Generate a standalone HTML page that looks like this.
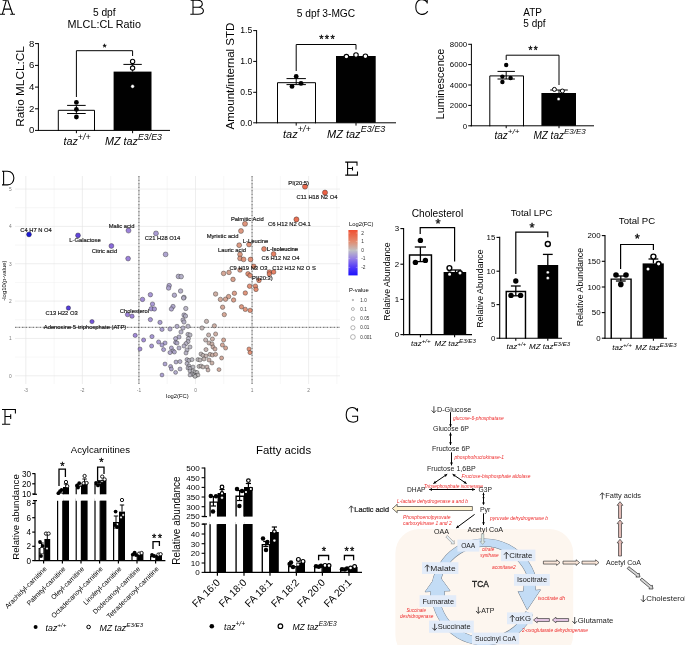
<!DOCTYPE html>
<html><head><meta charset="utf-8"><title>Figure</title>
<style>html,body{margin:0;padding:0;background:#fff;}svg{display:block;}text{font-family:"Liberation Sans",sans-serif;}</style></head>
<body>
<svg width="685" height="645" viewBox="0 0 685 645">
<rect x="0" y="0" width="685" height="645" fill="#fff"/>
<g opacity="0.999">
<g>
<line x1="25.82" y1="176" x2="25.82" y2="384" stroke="#e2e2e2" stroke-width="0.6"/>
<line x1="54.1" y1="176" x2="54.1" y2="384" stroke="#ececec" stroke-width="0.45"/>
<line x1="82.38" y1="176" x2="82.38" y2="384" stroke="#e2e2e2" stroke-width="0.6"/>
<line x1="110.66" y1="176" x2="110.66" y2="384" stroke="#ececec" stroke-width="0.45"/>
<line x1="138.94" y1="176" x2="138.94" y2="384" stroke="#e2e2e2" stroke-width="0.6"/>
<line x1="167.22" y1="176" x2="167.22" y2="384" stroke="#ececec" stroke-width="0.45"/>
<line x1="195.5" y1="176" x2="195.5" y2="384" stroke="#e2e2e2" stroke-width="0.6"/>
<line x1="223.78" y1="176" x2="223.78" y2="384" stroke="#ececec" stroke-width="0.45"/>
<line x1="252.06" y1="176" x2="252.06" y2="384" stroke="#e2e2e2" stroke-width="0.6"/>
<line x1="280.34" y1="176" x2="280.34" y2="384" stroke="#ececec" stroke-width="0.45"/>
<line x1="308.62" y1="176" x2="308.62" y2="384" stroke="#e2e2e2" stroke-width="0.6"/>
<line x1="336.9" y1="176" x2="336.9" y2="384" stroke="#ececec" stroke-width="0.45"/>
<line x1="15" y1="375.8" x2="340" y2="375.8" stroke="#e2e2e2" stroke-width="0.6"/>
<line x1="15" y1="357.12" x2="340" y2="357.12" stroke="#ececec" stroke-width="0.45"/>
<line x1="15" y1="338.45" x2="340" y2="338.45" stroke="#e2e2e2" stroke-width="0.6"/>
<line x1="15" y1="319.77" x2="340" y2="319.77" stroke="#ececec" stroke-width="0.45"/>
<line x1="15" y1="301.1" x2="340" y2="301.1" stroke="#e2e2e2" stroke-width="0.6"/>
<line x1="15" y1="282.43" x2="340" y2="282.43" stroke="#ececec" stroke-width="0.45"/>
<line x1="15" y1="263.75" x2="340" y2="263.75" stroke="#e2e2e2" stroke-width="0.6"/>
<line x1="15" y1="245.08" x2="340" y2="245.08" stroke="#ececec" stroke-width="0.45"/>
<line x1="15" y1="226.4" x2="340" y2="226.4" stroke="#e2e2e2" stroke-width="0.6"/>
<line x1="15" y1="207.72" x2="340" y2="207.72" stroke="#ececec" stroke-width="0.45"/>
<line x1="15" y1="189.05" x2="340" y2="189.05" stroke="#e2e2e2" stroke-width="0.6"/>
<line x1="138.94" y1="176" x2="138.94" y2="384" stroke="#2a2a2a" stroke-width="0.75" stroke-dasharray="1.6 0.7 0.5 0.7"/>
<line x1="252.06" y1="176" x2="252.06" y2="384" stroke="#2a2a2a" stroke-width="0.75" stroke-dasharray="1.6 0.7 0.5 0.7"/>
<line x1="15" y1="327.3" x2="340" y2="327.3" stroke="#2a2a2a" stroke-width="0.75" stroke-dasharray="1.6 0.7 0.5 0.7"/>
<circle cx="29" cy="234.4" r="2.48" fill="#0907d1" stroke="#1e1e1e" stroke-width="0.38" fill-opacity="0.92"/>
<circle cx="78" cy="235.4" r="2.48" fill="#5536d6" stroke="#1e1e1e" stroke-width="0.38" fill-opacity="0.92"/>
<circle cx="128.5" cy="230.6" r="2.49" fill="#9477d6" stroke="#1e1e1e" stroke-width="0.38" fill-opacity="0.92"/>
<circle cx="111.4" cy="246" r="2.44" fill="#8060d6" stroke="#1e1e1e" stroke-width="0.38" fill-opacity="0.92"/>
<circle cx="128.1" cy="258.6" r="2.39" fill="#9476d6" stroke="#1e1e1e" stroke-width="0.38" fill-opacity="0.92"/>
<circle cx="156" cy="233.4" r="2.48" fill="#a293cf" stroke="#1e1e1e" stroke-width="0.38" fill-opacity="0.92"/>
<circle cx="165.6" cy="254.4" r="2.41" fill="#a79ccc" stroke="#1e1e1e" stroke-width="0.38" fill-opacity="0.92"/>
<circle cx="68.4" cy="308" r="2.2" fill="#472ed7" stroke="#1e1e1e" stroke-width="0.38" fill-opacity="0.92"/>
<circle cx="92" cy="321.6" r="2.15" fill="#6847d6" stroke="#1e1e1e" stroke-width="0.38" fill-opacity="0.92"/>
<circle cx="127.5" cy="314.6" r="2.18" fill="#9476d6" stroke="#1e1e1e" stroke-width="0.38" fill-opacity="0.92"/>
<circle cx="132" cy="316.2" r="2.17" fill="#967ad5" stroke="#1e1e1e" stroke-width="0.38" fill-opacity="0.92"/>
<circle cx="135.2" cy="335.4" r="2.1" fill="#987ed4" stroke="#1e1e1e" stroke-width="0.38" fill-opacity="0.92"/>
<circle cx="178.4" cy="276.4" r="2.32" fill="#aea8c6" stroke="#1e1e1e" stroke-width="0.38" fill-opacity="0.92"/>
<circle cx="181.2" cy="276.6" r="2.32" fill="#b0abc4" stroke="#1e1e1e" stroke-width="0.38" fill-opacity="0.92"/>
<circle cx="169.2" cy="285.6" r="2.29" fill="#a9a0cb" stroke="#1e1e1e" stroke-width="0.38" fill-opacity="0.92"/>
<circle cx="168.6" cy="288" r="2.28" fill="#a99fcb" stroke="#1e1e1e" stroke-width="0.38" fill-opacity="0.92"/>
<circle cx="180.6" cy="291" r="2.27" fill="#b0aac4" stroke="#1e1e1e" stroke-width="0.38" fill-opacity="0.92"/>
<circle cx="174.4" cy="295.2" r="2.25" fill="#aca5c8" stroke="#1e1e1e" stroke-width="0.38" fill-opacity="0.92"/>
<circle cx="184" cy="297.4" r="2.24" fill="#b1adc3" stroke="#1e1e1e" stroke-width="0.38" fill-opacity="0.92"/>
<circle cx="183.6" cy="298" r="2.24" fill="#b1adc3" stroke="#1e1e1e" stroke-width="0.38" fill-opacity="0.92"/>
<circle cx="150.4" cy="294.7" r="2.25" fill="#a08dd0" stroke="#1e1e1e" stroke-width="0.38" fill-opacity="0.92"/>
<circle cx="142.5" cy="299.4" r="2.24" fill="#9c85d2" stroke="#1e1e1e" stroke-width="0.38" fill-opacity="0.92"/>
<circle cx="152.5" cy="304.1" r="2.22" fill="#a18fd0" stroke="#1e1e1e" stroke-width="0.38" fill-opacity="0.92"/>
<circle cx="151.2" cy="308.8" r="2.2" fill="#a08ed0" stroke="#1e1e1e" stroke-width="0.38" fill-opacity="0.92"/>
<circle cx="154.4" cy="309" r="2.2" fill="#a291cf" stroke="#1e1e1e" stroke-width="0.38" fill-opacity="0.92"/>
<circle cx="173" cy="306.5" r="2.21" fill="#aba3c9" stroke="#1e1e1e" stroke-width="0.38" fill-opacity="0.92"/>
<circle cx="171.4" cy="309" r="2.2" fill="#aaa2ca" stroke="#1e1e1e" stroke-width="0.38" fill-opacity="0.92"/>
<circle cx="185.8" cy="308.5" r="2.2" fill="#b3afc1" stroke="#1e1e1e" stroke-width="0.38" fill-opacity="0.92"/>
<circle cx="150.4" cy="319.6" r="2.16" fill="#a08dd0" stroke="#1e1e1e" stroke-width="0.38" fill-opacity="0.92"/>
<circle cx="160" cy="322.4" r="2.15" fill="#a497ce" stroke="#1e1e1e" stroke-width="0.38" fill-opacity="0.92"/>
<circle cx="184" cy="315" r="2.18" fill="#b1adc3" stroke="#1e1e1e" stroke-width="0.38" fill-opacity="0.92"/>
<circle cx="185.5" cy="316" r="2.17" fill="#b2afc2" stroke="#1e1e1e" stroke-width="0.38" fill-opacity="0.92"/>
<circle cx="183" cy="320" r="2.16" fill="#b1adc3" stroke="#1e1e1e" stroke-width="0.38" fill-opacity="0.92"/>
<circle cx="184" cy="322" r="2.15" fill="#b1adc3" stroke="#1e1e1e" stroke-width="0.38" fill-opacity="0.92"/>
<circle cx="188" cy="326.3" r="2.14" fill="#b4b1c0" stroke="#1e1e1e" stroke-width="0.38" fill-opacity="0.92"/>
<circle cx="177" cy="326.4" r="2.14" fill="#aea7c6" stroke="#1e1e1e" stroke-width="0.38" fill-opacity="0.92"/>
<circle cx="183" cy="328" r="2.13" fill="#b1adc3" stroke="#1e1e1e" stroke-width="0.38" fill-opacity="0.92"/>
<circle cx="170" cy="329" r="2.13" fill="#aaa1ca" stroke="#1e1e1e" stroke-width="0.38" fill-opacity="0.92"/>
<circle cx="162" cy="329.4" r="2.12" fill="#a599cd" stroke="#1e1e1e" stroke-width="0.38" fill-opacity="0.92"/>
<circle cx="181" cy="332" r="2.11" fill="#b0abc4" stroke="#1e1e1e" stroke-width="0.38" fill-opacity="0.92"/>
<circle cx="206.5" cy="321.4" r="2.15" fill="#c1afaa" stroke="#1e1e1e" stroke-width="0.38" fill-opacity="0.92"/>
<circle cx="214.4" cy="325.8" r="2.14" fill="#c8a89d" stroke="#1e1e1e" stroke-width="0.38" fill-opacity="0.92"/>
<circle cx="202" cy="328" r="2.13" fill="#beb2b1" stroke="#1e1e1e" stroke-width="0.38" fill-opacity="0.92"/>
<circle cx="305" cy="186.6" r="2.58" fill="#e75f41" stroke="#1e1e1e" stroke-width="0.38" fill-opacity="0.92"/>
<circle cx="325" cy="192.6" r="2.58" fill="#e95234" stroke="#1e1e1e" stroke-width="0.38" fill-opacity="0.92"/>
<circle cx="296.4" cy="219.4" r="2.54" fill="#e56547" stroke="#1e1e1e" stroke-width="0.38" fill-opacity="0.92"/>
<circle cx="245" cy="223.8" r="2.52" fill="#dc8c71" stroke="#1e1e1e" stroke-width="0.38" fill-opacity="0.92"/>
<circle cx="241" cy="231" r="2.49" fill="#da9077" stroke="#1e1e1e" stroke-width="0.38" fill-opacity="0.92"/>
<circle cx="239.2" cy="245.2" r="2.44" fill="#d99279" stroke="#1e1e1e" stroke-width="0.38" fill-opacity="0.92"/>
<circle cx="249" cy="244.5" r="2.44" fill="#de896c" stroke="#1e1e1e" stroke-width="0.38" fill-opacity="0.92"/>
<circle cx="264" cy="249" r="2.43" fill="#e17d5f" stroke="#1e1e1e" stroke-width="0.38" fill-opacity="0.92"/>
<circle cx="273.6" cy="254" r="2.41" fill="#e37658" stroke="#1e1e1e" stroke-width="0.38" fill-opacity="0.92"/>
<circle cx="240" cy="254.4" r="2.41" fill="#d99178" stroke="#1e1e1e" stroke-width="0.38" fill-opacity="0.92"/>
<circle cx="240" cy="258.4" r="2.39" fill="#d99178" stroke="#1e1e1e" stroke-width="0.38" fill-opacity="0.92"/>
<circle cx="243.6" cy="259.4" r="2.39" fill="#db8e73" stroke="#1e1e1e" stroke-width="0.38" fill-opacity="0.92"/>
<circle cx="250.5" cy="259.5" r="2.39" fill="#df876a" stroke="#1e1e1e" stroke-width="0.38" fill-opacity="0.92"/>
<circle cx="240" cy="270" r="2.35" fill="#d99178" stroke="#1e1e1e" stroke-width="0.38" fill-opacity="0.92"/>
<circle cx="223.6" cy="273.4" r="2.33" fill="#d0a08e" stroke="#1e1e1e" stroke-width="0.38" fill-opacity="0.92"/>
<circle cx="229" cy="272.4" r="2.34" fill="#d39b87" stroke="#1e1e1e" stroke-width="0.38" fill-opacity="0.92"/>
<circle cx="248" cy="273.8" r="2.33" fill="#de8a6d" stroke="#1e1e1e" stroke-width="0.38" fill-opacity="0.92"/>
<circle cx="250" cy="275.5" r="2.33" fill="#df886b" stroke="#1e1e1e" stroke-width="0.38" fill-opacity="0.92"/>
<circle cx="253.8" cy="266.4" r="2.36" fill="#e08567" stroke="#1e1e1e" stroke-width="0.38" fill-opacity="0.92"/>
<circle cx="269.4" cy="272" r="2.34" fill="#e2795b" stroke="#1e1e1e" stroke-width="0.38" fill-opacity="0.92"/>
<circle cx="273.6" cy="272" r="2.34" fill="#e37658" stroke="#1e1e1e" stroke-width="0.38" fill-opacity="0.92"/>
<circle cx="269.4" cy="274" r="2.33" fill="#e2795b" stroke="#1e1e1e" stroke-width="0.38" fill-opacity="0.92"/>
<circle cx="259" cy="280.4" r="2.31" fill="#e18163" stroke="#1e1e1e" stroke-width="0.38" fill-opacity="0.92"/>
<circle cx="233" cy="279.4" r="2.31" fill="#d59882" stroke="#1e1e1e" stroke-width="0.38" fill-opacity="0.92"/>
<circle cx="249.6" cy="286.2" r="2.29" fill="#df886b" stroke="#1e1e1e" stroke-width="0.38" fill-opacity="0.92"/>
<circle cx="255.4" cy="286.2" r="2.29" fill="#e08466" stroke="#1e1e1e" stroke-width="0.38" fill-opacity="0.92"/>
<circle cx="256" cy="289.4" r="2.27" fill="#e08365" stroke="#1e1e1e" stroke-width="0.38" fill-opacity="0.92"/>
<circle cx="215.6" cy="294" r="2.26" fill="#c9a79b" stroke="#1e1e1e" stroke-width="0.38" fill-opacity="0.92"/>
<circle cx="234.4" cy="293.3" r="2.26" fill="#d69680" stroke="#1e1e1e" stroke-width="0.38" fill-opacity="0.92"/>
<circle cx="245.3" cy="293" r="2.26" fill="#dc8c71" stroke="#1e1e1e" stroke-width="0.38" fill-opacity="0.92"/>
<circle cx="228.6" cy="296.6" r="2.25" fill="#d39c88" stroke="#1e1e1e" stroke-width="0.38" fill-opacity="0.92"/>
<circle cx="220.4" cy="299.4" r="2.24" fill="#cda393" stroke="#1e1e1e" stroke-width="0.38" fill-opacity="0.92"/>
<circle cx="225.5" cy="299.2" r="2.24" fill="#d19e8c" stroke="#1e1e1e" stroke-width="0.38" fill-opacity="0.92"/>
<circle cx="233.6" cy="300" r="2.23" fill="#d69781" stroke="#1e1e1e" stroke-width="0.38" fill-opacity="0.92"/>
<circle cx="222.6" cy="307.2" r="2.21" fill="#cfa190" stroke="#1e1e1e" stroke-width="0.38" fill-opacity="0.92"/>
<circle cx="241.5" cy="306.8" r="2.21" fill="#da9076" stroke="#1e1e1e" stroke-width="0.38" fill-opacity="0.92"/>
<circle cx="245.3" cy="309.4" r="2.2" fill="#dc8c71" stroke="#1e1e1e" stroke-width="0.38" fill-opacity="0.92"/>
<circle cx="250.1" cy="310.4" r="2.2" fill="#df886b" stroke="#1e1e1e" stroke-width="0.38" fill-opacity="0.92"/>
<circle cx="224.3" cy="314.6" r="2.18" fill="#d0a08d" stroke="#1e1e1e" stroke-width="0.38" fill-opacity="0.92"/>
<circle cx="152" cy="336.6" r="2.1" fill="#a08fd0" stroke="#1e1e1e" stroke-width="0.38" fill-opacity="0.92"/>
<circle cx="143.6" cy="340" r="2.08" fill="#9c86d2" stroke="#1e1e1e" stroke-width="0.38" fill-opacity="0.92"/>
<circle cx="179" cy="337" r="2.1" fill="#afa9c5" stroke="#1e1e1e" stroke-width="0.38" fill-opacity="0.92"/>
<circle cx="175.6" cy="338.6" r="2.09" fill="#ada6c7" stroke="#1e1e1e" stroke-width="0.38" fill-opacity="0.92"/>
<circle cx="188" cy="334.4" r="2.11" fill="#b4b1c0" stroke="#1e1e1e" stroke-width="0.38" fill-opacity="0.92"/>
<circle cx="190" cy="335" r="2.1" fill="#b5b3bf" stroke="#1e1e1e" stroke-width="0.38" fill-opacity="0.92"/>
<circle cx="188.4" cy="338.6" r="2.09" fill="#b4b1c0" stroke="#1e1e1e" stroke-width="0.38" fill-opacity="0.92"/>
<circle cx="208.6" cy="335" r="2.1" fill="#c3ada7" stroke="#1e1e1e" stroke-width="0.38" fill-opacity="0.92"/>
<circle cx="215.6" cy="334" r="2.11" fill="#c9a79b" stroke="#1e1e1e" stroke-width="0.38" fill-opacity="0.92"/>
<circle cx="205.6" cy="340" r="2.08" fill="#c1afac" stroke="#1e1e1e" stroke-width="0.38" fill-opacity="0.92"/>
<circle cx="212.4" cy="339" r="2.09" fill="#c6aaa1" stroke="#1e1e1e" stroke-width="0.38" fill-opacity="0.92"/>
<circle cx="158.6" cy="342" r="2.08" fill="#a495ce" stroke="#1e1e1e" stroke-width="0.38" fill-opacity="0.92"/>
<circle cx="165" cy="343" r="2.07" fill="#a79ccd" stroke="#1e1e1e" stroke-width="0.38" fill-opacity="0.92"/>
<circle cx="162" cy="345" r="2.07" fill="#a599cd" stroke="#1e1e1e" stroke-width="0.38" fill-opacity="0.92"/>
<circle cx="151.6" cy="346" r="2.06" fill="#a08ed0" stroke="#1e1e1e" stroke-width="0.38" fill-opacity="0.92"/>
<circle cx="140" cy="349" r="2.05" fill="#9a82d3" stroke="#1e1e1e" stroke-width="0.38" fill-opacity="0.92"/>
<circle cx="175.6" cy="342.4" r="2.08" fill="#ada6c7" stroke="#1e1e1e" stroke-width="0.38" fill-opacity="0.92"/>
<circle cx="177" cy="343" r="2.07" fill="#aea7c6" stroke="#1e1e1e" stroke-width="0.38" fill-opacity="0.92"/>
<circle cx="188" cy="341.6" r="2.08" fill="#b4b1c0" stroke="#1e1e1e" stroke-width="0.38" fill-opacity="0.92"/>
<circle cx="186" cy="343.6" r="2.07" fill="#b3afc1" stroke="#1e1e1e" stroke-width="0.38" fill-opacity="0.92"/>
<circle cx="184" cy="346" r="2.06" fill="#b1adc3" stroke="#1e1e1e" stroke-width="0.38" fill-opacity="0.92"/>
<circle cx="190" cy="347" r="2.06" fill="#b5b3bf" stroke="#1e1e1e" stroke-width="0.38" fill-opacity="0.92"/>
<circle cx="179" cy="348" r="2.05" fill="#afa9c5" stroke="#1e1e1e" stroke-width="0.38" fill-opacity="0.92"/>
<circle cx="171.4" cy="348" r="2.05" fill="#aaa2ca" stroke="#1e1e1e" stroke-width="0.38" fill-opacity="0.92"/>
<circle cx="163.6" cy="349.6" r="2.05" fill="#a69acd" stroke="#1e1e1e" stroke-width="0.38" fill-opacity="0.92"/>
<circle cx="173" cy="351" r="2.04" fill="#aba3c9" stroke="#1e1e1e" stroke-width="0.38" fill-opacity="0.92"/>
<circle cx="170" cy="352.6" r="2.04" fill="#aaa1ca" stroke="#1e1e1e" stroke-width="0.38" fill-opacity="0.92"/>
<circle cx="174.4" cy="352" r="2.04" fill="#aca5c8" stroke="#1e1e1e" stroke-width="0.38" fill-opacity="0.92"/>
<circle cx="187" cy="350" r="2.05" fill="#b3b0c1" stroke="#1e1e1e" stroke-width="0.38" fill-opacity="0.92"/>
<circle cx="186" cy="353" r="2.04" fill="#b3afc1" stroke="#1e1e1e" stroke-width="0.38" fill-opacity="0.92"/>
<circle cx="209" cy="343" r="2.07" fill="#c3ada6" stroke="#1e1e1e" stroke-width="0.38" fill-opacity="0.92"/>
<circle cx="212" cy="344" r="2.07" fill="#c6aaa1" stroke="#1e1e1e" stroke-width="0.38" fill-opacity="0.92"/>
<circle cx="213" cy="347" r="2.06" fill="#c7a9a0" stroke="#1e1e1e" stroke-width="0.38" fill-opacity="0.92"/>
<circle cx="215" cy="349" r="2.05" fill="#c9a79c" stroke="#1e1e1e" stroke-width="0.38" fill-opacity="0.92"/>
<circle cx="206" cy="349.6" r="2.05" fill="#c1afab" stroke="#1e1e1e" stroke-width="0.38" fill-opacity="0.92"/>
<circle cx="223.6" cy="340" r="2.08" fill="#d0a08e" stroke="#1e1e1e" stroke-width="0.38" fill-opacity="0.92"/>
<circle cx="222.4" cy="345" r="2.07" fill="#cfa190" stroke="#1e1e1e" stroke-width="0.38" fill-opacity="0.92"/>
<circle cx="225.6" cy="348" r="2.05" fill="#d19e8c" stroke="#1e1e1e" stroke-width="0.38" fill-opacity="0.92"/>
<circle cx="249" cy="349" r="2.05" fill="#de896c" stroke="#1e1e1e" stroke-width="0.38" fill-opacity="0.92"/>
<circle cx="250" cy="352.6" r="2.04" fill="#df886b" stroke="#1e1e1e" stroke-width="0.38" fill-opacity="0.92"/>
<circle cx="201" cy="354" r="2.03" fill="#bdb3b3" stroke="#1e1e1e" stroke-width="0.38" fill-opacity="0.92"/>
<circle cx="203" cy="355.4" r="2.03" fill="#beb2b0" stroke="#1e1e1e" stroke-width="0.38" fill-opacity="0.92"/>
<circle cx="206" cy="356" r="2.02" fill="#c1afab" stroke="#1e1e1e" stroke-width="0.38" fill-opacity="0.92"/>
<circle cx="210" cy="354.4" r="2.03" fill="#c4aca4" stroke="#1e1e1e" stroke-width="0.38" fill-opacity="0.92"/>
<circle cx="212.4" cy="355" r="2.03" fill="#c6aaa1" stroke="#1e1e1e" stroke-width="0.38" fill-opacity="0.92"/>
<circle cx="215.6" cy="354.4" r="2.03" fill="#c9a79b" stroke="#1e1e1e" stroke-width="0.38" fill-opacity="0.92"/>
<circle cx="221.6" cy="358" r="2.02" fill="#cea292" stroke="#1e1e1e" stroke-width="0.38" fill-opacity="0.92"/>
<circle cx="187" cy="359.6" r="2.01" fill="#b3b0c1" stroke="#1e1e1e" stroke-width="0.38" fill-opacity="0.92"/>
<circle cx="189" cy="360.4" r="2.01" fill="#b4b2c0" stroke="#1e1e1e" stroke-width="0.38" fill-opacity="0.92"/>
<circle cx="192" cy="359.6" r="2.01" fill="#b6b5be" stroke="#1e1e1e" stroke-width="0.38" fill-opacity="0.92"/>
<circle cx="198" cy="359.6" r="2.01" fill="#bab6b8" stroke="#1e1e1e" stroke-width="0.38" fill-opacity="0.92"/>
<circle cx="200" cy="360" r="2.01" fill="#bcb4b5" stroke="#1e1e1e" stroke-width="0.38" fill-opacity="0.92"/>
<circle cx="204" cy="359" r="2.01" fill="#bfb1ae" stroke="#1e1e1e" stroke-width="0.38" fill-opacity="0.92"/>
<circle cx="209" cy="360" r="2.01" fill="#c3ada6" stroke="#1e1e1e" stroke-width="0.38" fill-opacity="0.92"/>
<circle cx="212" cy="363" r="2" fill="#c6aaa1" stroke="#1e1e1e" stroke-width="0.38" fill-opacity="0.92"/>
<circle cx="176" cy="362" r="2" fill="#ada6c7" stroke="#1e1e1e" stroke-width="0.38" fill-opacity="0.92"/>
<circle cx="180" cy="361.6" r="2" fill="#afaac5" stroke="#1e1e1e" stroke-width="0.38" fill-opacity="0.92"/>
<circle cx="165" cy="364" r="1.99" fill="#a79ccd" stroke="#1e1e1e" stroke-width="0.38" fill-opacity="0.92"/>
<circle cx="170.6" cy="366.4" r="1.99" fill="#aaa1ca" stroke="#1e1e1e" stroke-width="0.38" fill-opacity="0.92"/>
<circle cx="171.4" cy="369" r="1.98" fill="#aaa2ca" stroke="#1e1e1e" stroke-width="0.38" fill-opacity="0.92"/>
<circle cx="180" cy="369" r="1.98" fill="#afaac5" stroke="#1e1e1e" stroke-width="0.38" fill-opacity="0.92"/>
<circle cx="175.6" cy="372.4" r="1.96" fill="#ada6c7" stroke="#1e1e1e" stroke-width="0.38" fill-opacity="0.92"/>
<circle cx="162" cy="375" r="1.95" fill="#a599cd" stroke="#1e1e1e" stroke-width="0.38" fill-opacity="0.92"/>
<circle cx="187" cy="363.6" r="2" fill="#b3b0c1" stroke="#1e1e1e" stroke-width="0.38" fill-opacity="0.92"/>
<circle cx="189" cy="366" r="1.99" fill="#b4b2c0" stroke="#1e1e1e" stroke-width="0.38" fill-opacity="0.92"/>
<circle cx="188" cy="368" r="1.98" fill="#b4b1c0" stroke="#1e1e1e" stroke-width="0.38" fill-opacity="0.92"/>
<circle cx="190" cy="368.4" r="1.98" fill="#b5b3bf" stroke="#1e1e1e" stroke-width="0.38" fill-opacity="0.92"/>
<circle cx="193" cy="367" r="1.98" fill="#b7b6bd" stroke="#1e1e1e" stroke-width="0.38" fill-opacity="0.92"/>
<circle cx="199" cy="366.4" r="1.99" fill="#bbb5b6" stroke="#1e1e1e" stroke-width="0.38" fill-opacity="0.92"/>
<circle cx="201" cy="366" r="1.99" fill="#bdb3b3" stroke="#1e1e1e" stroke-width="0.38" fill-opacity="0.92"/>
<circle cx="203" cy="367" r="1.98" fill="#beb2b0" stroke="#1e1e1e" stroke-width="0.38" fill-opacity="0.92"/>
<circle cx="207" cy="367" r="1.98" fill="#c2aea9" stroke="#1e1e1e" stroke-width="0.38" fill-opacity="0.92"/>
<circle cx="208" cy="370" r="1.97" fill="#c3ada8" stroke="#1e1e1e" stroke-width="0.38" fill-opacity="0.92"/>
<circle cx="219" cy="369.6" r="1.97" fill="#cca496" stroke="#1e1e1e" stroke-width="0.38" fill-opacity="0.92"/>
<circle cx="190" cy="371" r="1.97" fill="#b5b3bf" stroke="#1e1e1e" stroke-width="0.38" fill-opacity="0.92"/>
<circle cx="193" cy="371" r="1.97" fill="#b7b6bd" stroke="#1e1e1e" stroke-width="0.38" fill-opacity="0.92"/>
<circle cx="195" cy="372" r="1.96" fill="#b8b8bc" stroke="#1e1e1e" stroke-width="0.38" fill-opacity="0.92"/>
<circle cx="197" cy="372.4" r="1.96" fill="#b9b7ba" stroke="#1e1e1e" stroke-width="0.38" fill-opacity="0.92"/>
<circle cx="192" cy="374" r="1.96" fill="#b6b5be" stroke="#1e1e1e" stroke-width="0.38" fill-opacity="0.92"/>
<circle cx="194" cy="375" r="1.95" fill="#b7b7bd" stroke="#1e1e1e" stroke-width="0.38" fill-opacity="0.92"/>
<circle cx="196" cy="375.6" r="1.95" fill="#b8b8bb" stroke="#1e1e1e" stroke-width="0.38" fill-opacity="0.92"/>
<circle cx="198" cy="375" r="1.95" fill="#bab6b8" stroke="#1e1e1e" stroke-width="0.38" fill-opacity="0.92"/>
<circle cx="190" cy="375" r="1.95" fill="#b5b3bf" stroke="#1e1e1e" stroke-width="0.38" fill-opacity="0.92"/>
<circle cx="195" cy="376.4" r="1.95" fill="#b8b8bc" stroke="#1e1e1e" stroke-width="0.38" fill-opacity="0.92"/>
<text x="36" y="232" font-size="5.8" text-anchor="middle" fill="#1a1a1a" stroke="#1a1a1a" stroke-width="0.18">C4 H7 N O4</text>
<text x="85" y="242" font-size="5.8" text-anchor="middle" fill="#1a1a1a" stroke="#1a1a1a" stroke-width="0.18">L-Galactose</text>
<text x="121.6" y="228" font-size="5.8" text-anchor="middle" fill="#1a1a1a" stroke="#1a1a1a" stroke-width="0.18">Malic acid</text>
<text x="104.4" y="252.6" font-size="5.8" text-anchor="middle" fill="#1a1a1a" stroke="#1a1a1a" stroke-width="0.18">Citric acid</text>
<text x="162.6" y="240" font-size="5.8" text-anchor="middle" fill="#1a1a1a" stroke="#1a1a1a" stroke-width="0.18">C21 H28 O14</text>
<text x="61.6" y="314.6" font-size="5.8" text-anchor="middle" fill="#1a1a1a" stroke="#1a1a1a" stroke-width="0.18">C13 H22 O3</text>
<text x="85" y="328.6" font-size="5.8" text-anchor="middle" fill="#1a1a1a" stroke="#1a1a1a" stroke-width="0.18">Adenosine 5-triphosphate (ATP)</text>
<text x="134.4" y="312.6" font-size="5.8" text-anchor="middle" fill="#1a1a1a" stroke="#1a1a1a" stroke-width="0.18">Cholesterol</text>
<text x="298.6" y="184.6" font-size="5.8" text-anchor="middle" fill="#1a1a1a" stroke="#1a1a1a" stroke-width="0.18">PI(20:5)</text>
<text x="317" y="199.4" font-size="5.8" text-anchor="middle" fill="#1a1a1a" stroke="#1a1a1a" stroke-width="0.18">C11 H18 N2 O4</text>
<text x="247.4" y="221.4" font-size="5.8" text-anchor="middle" fill="#1a1a1a" stroke="#1a1a1a" stroke-width="0.18">Palmitic Acid</text>
<text x="289.4" y="226.4" font-size="5.8" text-anchor="middle" fill="#1a1a1a" stroke="#1a1a1a" stroke-width="0.18">C6 H12 N2 O4.1</text>
<text x="222.6" y="238" font-size="5.8" text-anchor="middle" fill="#1a1a1a" stroke="#1a1a1a" stroke-width="0.18">Myristic acid</text>
<text x="255.6" y="242.6" font-size="5.8" text-anchor="middle" fill="#1a1a1a" stroke="#1a1a1a" stroke-width="0.18">L-Leucine</text>
<text x="232" y="252" font-size="5.8" text-anchor="middle" fill="#1a1a1a" stroke="#1a1a1a" stroke-width="0.18">Lauric acid</text>
<text x="282.4" y="250.6" font-size="5.8" text-anchor="middle" fill="#1a1a1a" stroke="#1a1a1a" stroke-width="0.18">L-Isoleucine</text>
<text x="280.6" y="260.4" font-size="5.8" text-anchor="middle" fill="#1a1a1a" stroke="#1a1a1a" stroke-width="0.18">C6 H12 N2 O4</text>
<text x="248.4" y="270" font-size="5.8" text-anchor="middle" fill="#1a1a1a" stroke="#1a1a1a" stroke-width="0.18">C9 H19 N3 O3</text>
<text x="294" y="270" font-size="5.8" text-anchor="middle" fill="#1a1a1a" stroke="#1a1a1a" stroke-width="0.18">C12 H12 N2 O S</text>
<text x="262.4" y="280" font-size="5.8" text-anchor="middle" fill="#1a1a1a" stroke="#1a1a1a" stroke-width="0.18">PI(20:3)</text>
<text x="282.6" y="250.6" font-size="5.8" text-anchor="middle" fill="#1a1a1a" opacity="0.5">L-Isoleucine</text>
<text x="25.82" y="391.8" font-size="4.8" text-anchor="middle" fill="#7a7a7a">-3</text>
<text x="82.38" y="391.8" font-size="4.8" text-anchor="middle" fill="#7a7a7a">-2</text>
<text x="138.94" y="391.8" font-size="4.8" text-anchor="middle" fill="#7a7a7a">-1</text>
<text x="195.5" y="391.8" font-size="4.8" text-anchor="middle" fill="#7a7a7a">0</text>
<text x="252.06" y="391.8" font-size="4.8" text-anchor="middle" fill="#7a7a7a">1</text>
<text x="308.62" y="391.8" font-size="4.8" text-anchor="middle" fill="#7a7a7a">2</text>
<text x="11.6" y="377.6" font-size="4.8" text-anchor="end" fill="#7a7a7a">0</text>
<text x="11.6" y="340.25" font-size="4.8" text-anchor="end" fill="#7a7a7a">1</text>
<text x="11.6" y="302.9" font-size="4.8" text-anchor="end" fill="#7a7a7a">2</text>
<text x="11.6" y="265.55" font-size="4.8" text-anchor="end" fill="#7a7a7a">3</text>
<text x="11.6" y="228.2" font-size="4.8" text-anchor="end" fill="#7a7a7a">4</text>
<text x="11.6" y="190.85" font-size="4.8" text-anchor="end" fill="#7a7a7a">5</text>
<text x="177.4" y="397.6" font-size="5.8" text-anchor="middle">log2(FC)</text>
<text x="6.5" y="280.6" font-size="6" text-anchor="middle" transform="rotate(-90 6.5 280.6)">-log10(p-value)</text>
<defs><linearGradient id="cb" x1="0" y1="0" x2="0" y2="1">
<stop offset="0" stop-color="#f04e30"/>
<stop offset="0.26" stop-color="#e28c70"/>
<stop offset="0.45" stop-color="#c0c0c4"/>
<stop offset="0.63" stop-color="#9680e4"/>
<stop offset="0.82" stop-color="#523af8"/>
<stop offset="1" stop-color="#1c12fc"/>
</linearGradient></defs>
<text x="349" y="226.4" font-size="5.8">Log2(FC)</text>
<rect x="348.4" y="230" width="9.2" height="45.4" fill="url(#cb)" stroke="none" stroke-width="1"/>
<text x="361.2" y="234.8" font-size="4.8" fill="#333">2</text>
<line x1="348.4" y1="233" x2="350.2" y2="233" stroke="#fff" stroke-width="0.3"/>
<line x1="355.8" y1="233" x2="357.6" y2="233" stroke="#fff" stroke-width="0.3"/>
<text x="361.2" y="243.2" font-size="4.8" fill="#333">1</text>
<line x1="348.4" y1="241.4" x2="350.2" y2="241.4" stroke="#fff" stroke-width="0.3"/>
<line x1="355.8" y1="241.4" x2="357.6" y2="241.4" stroke="#fff" stroke-width="0.3"/>
<text x="361.2" y="251.8" font-size="4.8" fill="#333">0</text>
<line x1="348.4" y1="250" x2="350.2" y2="250" stroke="#fff" stroke-width="0.3"/>
<line x1="355.8" y1="250" x2="357.6" y2="250" stroke="#fff" stroke-width="0.3"/>
<text x="361.2" y="260.4" font-size="4.8" fill="#333">-1</text>
<line x1="348.4" y1="258.6" x2="350.2" y2="258.6" stroke="#fff" stroke-width="0.3"/>
<line x1="355.8" y1="258.6" x2="357.6" y2="258.6" stroke="#fff" stroke-width="0.3"/>
<text x="361.2" y="269.2" font-size="4.8" fill="#333">-2</text>
<line x1="348.4" y1="267.4" x2="350.2" y2="267.4" stroke="#fff" stroke-width="0.3"/>
<line x1="355.8" y1="267.4" x2="357.6" y2="267.4" stroke="#fff" stroke-width="0.3"/>
<text x="349" y="292.4" font-size="5.8">P-value</text>
<circle cx="352.9" cy="300" r="0.7" fill="#fff" stroke="#333" stroke-width="0.35"/>
<text x="360.3" y="301.7" font-size="4.6" fill="#333">1.0</text>
<circle cx="352.9" cy="309" r="1.5" fill="#fff" stroke="#333" stroke-width="0.35"/>
<text x="360.3" y="310.7" font-size="4.6" fill="#333">0.1</text>
<circle cx="352.9" cy="318.7" r="1.8" fill="#fff" stroke="#333" stroke-width="0.35"/>
<text x="360.3" y="320.4" font-size="4.6" fill="#333">0.05</text>
<circle cx="352.9" cy="327.7" r="2.1" fill="#fff" stroke="#333" stroke-width="0.35"/>
<text x="360.3" y="329.4" font-size="4.6" fill="#333">0.01</text>
<circle cx="352.9" cy="337" r="2.4" fill="#fff" stroke="#333" stroke-width="0.35"/>
<text x="360.3" y="338.7" font-size="4.6" fill="#333">0.001</text>
</g>
<g>
<rect x="395.4" y="529" width="177.8" height="130" fill="#fdf6ef" stroke="none" stroke-width="1" rx="24" ry="24"/>
<path d="M529.3 613.03 A49.4 49.4 0 1 1 533.52 585.12" fill="none" stroke="#66727f" stroke-width="8.3"/>
<path d="M524.3 584 L534.7 584 L535.6 590.4 L540.4 589.8 L527.2 609.6 L518.2 591.6 L523.5 591.4 Z" fill="#c3dcf5" stroke="#66727f" stroke-width="0.9" stroke-linejoin="miter"/>
<path d="M430.6 596 L431 591.4 L425.2 591.8 L437.8 574 L450 590.8 L444.3 591 L444.5 596 Z" fill="#c3dcf5" stroke="#66727f" stroke-width="0.9" stroke-linejoin="miter"/>
<path d="M529.3 613.03 A49.4 49.4 0 1 1 533.52 585.12" fill="none" stroke="#c3dcf5" stroke-width="7.5"/>
<path d="M524.3 584 L534.7 584 L535.6 590.4 L540.4 589.8 L527.2 609.6 L518.2 591.6 L523.5 591.4 Z" fill="#c3dcf5"/>
<path d="M430.6 596 L431 591.4 L425.2 591.8 L437.8 574 L450 590.8 L444.3 591 L444.5 596 Z" fill="#c3dcf5"/>
<rect x="457.4" y="539.6" width="22" height="12" fill="#e3ecf9" stroke="none" stroke-width="1"/>
<text x="461.2" y="548.06" font-size="7.2" fill="#1c1c1c" textLength="14" lengthAdjust="spacingAndGlyphs">OAA</text>
<rect x="501" y="549.6" width="34.4" height="11.6" fill="#e3ecf9" stroke="none" stroke-width="1"/>
<path d="M506.3 558.87 V552.53 M504 554.73 L506.3 552.23 L508.6 554.73" stroke="#1c1c1c" stroke-width="0.8" fill="none"/>
<text x="509.3" y="557.96" font-size="7.2" fill="#1c1c1c" textLength="23.1" lengthAdjust="spacingAndGlyphs">Citrate</text>
<rect x="514" y="574" width="35.8" height="11.8" fill="#e3ecf9" stroke="none" stroke-width="1"/>
<text x="517" y="582.26" font-size="7.2" fill="#1c1c1c" textLength="30" lengthAdjust="spacingAndGlyphs">Isocitrate</text>
<rect x="507" y="612.4" width="25.6" height="11.8" fill="#e3ecf9" stroke="none" stroke-width="1"/>
<path d="M512.3 621.87 V615.53 M510 617.73 L512.3 615.23 L514.6 617.73" stroke="#1c1c1c" stroke-width="0.8" fill="none"/>
<text x="515.3" y="620.96" font-size="7.2" fill="#1c1c1c" textLength="15.7" lengthAdjust="spacingAndGlyphs">αKG</text>
<rect x="472" y="632.6" width="47.2" height="11.8" fill="#e3ecf9" stroke="none" stroke-width="1"/>
<text x="475" y="640.76" font-size="7.2" fill="#1c1c1c" textLength="41" lengthAdjust="spacingAndGlyphs">Succinyl CoA</text>
<rect x="429" y="620.6" width="44.8" height="12.2" fill="#e3ecf9" stroke="none" stroke-width="1"/>
<path d="M434.7 623.73 V630.07 M432.4 627.87 L434.7 630.37 L437 627.87" stroke="#1c1c1c" stroke-width="0.8" fill="none"/>
<text x="437.7" y="629.46" font-size="7.2" fill="#1c1c1c" textLength="32.9" lengthAdjust="spacingAndGlyphs">Succinate</text>
<rect x="419.6" y="595.2" width="36.6" height="11.8" fill="#e3ecf9" stroke="none" stroke-width="1"/>
<text x="422.6" y="603.86" font-size="7.2" fill="#1c1c1c" textLength="31.4" lengthAdjust="spacingAndGlyphs">Fumarate</text>
<rect x="422" y="562.2" width="36.4" height="11.8" fill="#e3ecf9" stroke="none" stroke-width="1"/>
<path d="M427.3 571.47 V565.13 M425 567.33 L427.3 564.83 L429.6 567.33" stroke="#1c1c1c" stroke-width="0.8" fill="none"/>
<text x="430.3" y="570.56" font-size="7.2" fill="#1c1c1c" textLength="25.3" lengthAdjust="spacingAndGlyphs">Malate</text>
<text x="472" y="586.81" font-size="9.6" fill="#1c1c1c" textLength="16.8" lengthAdjust="spacingAndGlyphs" stroke="#1c1c1c" stroke-width="0.35">TCA</text>
<path d="M478.3 606.83 V613.17 M476 610.97 L478.3 613.47 L480.6 610.97" stroke="#1c1c1c" stroke-width="0.8" fill="none"/>
<text x="481.3" y="612.56" font-size="7.2" fill="#1c1c1c" textLength="13.1" lengthAdjust="spacingAndGlyphs">ATP</text>
<text x="482" y="550.52" font-size="4.6" font-style="italic" fill="#ee2a2a" textLength="12.4" lengthAdjust="spacingAndGlyphs">citrate</text>
<text x="480.2" y="557.12" font-size="4.6" font-style="italic" fill="#ee2a2a" textLength="18.4" lengthAdjust="spacingAndGlyphs">synthase</text>
<text x="492" y="569.18" font-size="4.8" font-style="italic" fill="#ee2a2a" textLength="23.6" lengthAdjust="spacingAndGlyphs">aconitase2</text>
<text x="538" y="599.58" font-size="4.8" font-style="italic" fill="#ee2a2a" textLength="27" lengthAdjust="spacingAndGlyphs">isocitrate dh</text>
<text x="406.4" y="611.52" font-size="4.6" font-style="italic" fill="#ee2a2a" textLength="19.6" lengthAdjust="spacingAndGlyphs">Succinate</text>
<text x="400" y="617.72" font-size="4.6" font-style="italic" fill="#ee2a2a" textLength="33.4" lengthAdjust="spacingAndGlyphs">deshidrogenase</text>
<text x="522" y="631.78" font-size="4.8" font-style="italic" fill="#ee2a2a" textLength="66" lengthAdjust="spacingAndGlyphs">2-oxoglutarate dehydrogenase</text>
<path d="M433.9 406.23 V412.57 M431.6 410.37 L433.9 412.87 L436.2 410.37" stroke="#1c1c1c" stroke-width="0.8" fill="none"/>
<text x="436.9" y="411.96" font-size="7.2" fill="#1c1c1c" textLength="34.5" lengthAdjust="spacingAndGlyphs">D-Glucose</text>
<line x1="450.5" y1="412.2" x2="450.5" y2="427" stroke="#000" stroke-width="1"/>
<path d="M450.5 427 L449.1 424.2 L451.9 424.2 Z" fill="#000"/>
<text x="453" y="419.62" font-size="4.9" font-style="italic" fill="#ee2a2a" textLength="50.6" lengthAdjust="spacingAndGlyphs">glucose-6-phosphatase</text>
<text x="433" y="431.16" font-size="7.2" fill="#1c1c1c" textLength="36" lengthAdjust="spacingAndGlyphs">Glucose 6P</text>
<line x1="450.5" y1="432.6" x2="450.5" y2="445" stroke="#000" stroke-width="1"/>
<path d="M450.5 445 L449.1 442.2 L451.9 442.2 Z" fill="#000"/>
<path d="M450.5 432.6 L451.9 435.4 L449.1 435.4 Z" fill="#000"/>
<text x="432" y="450.96" font-size="7.2" fill="#1c1c1c" textLength="38" lengthAdjust="spacingAndGlyphs">Fructose 6P</text>
<line x1="451.5" y1="452.4" x2="451.5" y2="465.4" stroke="#000" stroke-width="1"/>
<path d="M451.5 465.4 L450.1 462.6 L452.9 462.6 Z" fill="#000"/>
<text x="454.4" y="459.22" font-size="4.9" font-style="italic" fill="#ee2a2a" textLength="49.6" lengthAdjust="spacingAndGlyphs">phosphofructokinase-1</text>
<text x="427" y="470.96" font-size="7.2" fill="#1c1c1c" textLength="48.6" lengthAdjust="spacingAndGlyphs">Fructose 1,6BP</text>
<line x1="447.2" y1="474.2" x2="433.4" y2="483.6" stroke="#000" stroke-width="1"/>
<path d="M433.4 483.6 L434.93 480.87 L436.5 483.18 Z" fill="#000"/>
<path d="M447.2 474.2 L445.67 476.93 L444.1 474.62 Z" fill="#000"/>
<line x1="452.6" y1="474.2" x2="466.6" y2="483.6" stroke="#000" stroke-width="1"/>
<path d="M466.6 483.6 L463.49 483.2 L465.06 480.88 Z" fill="#000"/>
<path d="M452.6 474.2 L455.71 474.6 L454.14 476.92 Z" fill="#000"/>
<text x="461.6" y="477.82" font-size="4.9" font-style="italic" fill="#ee2a2a" textLength="68.8" lengthAdjust="spacingAndGlyphs">Fructose-bisphosphate aldolase</text>
<text x="407" y="491.56" font-size="7.2" fill="#1c1c1c" textLength="18.6" lengthAdjust="spacingAndGlyphs">DHAP</text>
<text x="424" y="487.62" font-size="4.9" font-style="italic" fill="#ee2a2a" textLength="59" lengthAdjust="spacingAndGlyphs">Triosephosphate isomerase</text>
<line x1="429.2" y1="489.5" x2="475" y2="489.5" stroke="#000" stroke-width="1"/>
<path d="M475 489.5 L472.2 490.9 L472.2 488.1 Z" fill="#000"/>
<path d="M429.2 489.5 L432 488.1 L432 490.9 Z" fill="#000"/>
<text x="478.6" y="491.56" font-size="7.2" fill="#1c1c1c" textLength="13.4" lengthAdjust="spacingAndGlyphs">G3P</text>
<line x1="483.5" y1="492.6" x2="483.5" y2="503" stroke="#000" stroke-width="1"/>
<path d="M483.5 496.2 L482.4 494 L484.6 494 Z" fill="#000"/>
<path d="M483.5 499.4 L482.4 497.2 L484.6 497.2 Z" fill="#000"/>
<path d="M483.5 505.2 L482.1 502.4 L484.9 502.4 Z" fill="#000"/>
<text x="480" y="511.56" font-size="7.2" fill="#1c1c1c" textLength="10.4" lengthAdjust="spacingAndGlyphs">Pyr</text>
<path d="M0 -2 H75.2 V-4.3 L80 0 L75.2 4.3 V2 H0 Z" fill="#fff2cc" stroke="#2c2c2c" stroke-width="0.65" stroke-linejoin="miter" transform="translate(472.4 508.5) rotate(180)"/>
<text x="397" y="503.02" font-size="4.9" font-style="italic" fill="#ee2a2a" textLength="71" lengthAdjust="spacingAndGlyphs">L-lactate dehydrogenase a and b</text>
<path d="M351.3 512.47 V506.13 M349 508.33 L351.3 505.83 L353.6 508.33" stroke="#1c1c1c" stroke-width="0.8" fill="none"/>
<text x="354.3" y="511.56" font-size="7.2" fill="#1c1c1c" textLength="34.7" lengthAdjust="spacingAndGlyphs" stroke="#1c1c1c" stroke-width="0.22">Lactic acid</text>
<text x="403" y="518.62" font-size="4.9" font-style="italic" fill="#ee2a2a" textLength="47.6" lengthAdjust="spacingAndGlyphs">Phosphoenolpyruvate</text>
<text x="403" y="525.22" font-size="4.9" font-style="italic" fill="#ee2a2a" textLength="48.6" lengthAdjust="spacingAndGlyphs">carboxykinase 1 and 2</text>
<text x="490" y="520.02" font-size="4.9" font-style="italic" fill="#ee2a2a" textLength="58" lengthAdjust="spacingAndGlyphs">pyruvate dehydrogenase b</text>
<line x1="483.5" y1="513.4" x2="483.5" y2="525" stroke="#000" stroke-width="1"/>
<path d="M483.5 525 L482.1 522.2 L484.9 522.2 Z" fill="#000"/>
<line x1="474.6" y1="514.4" x2="456.2" y2="528" stroke="#000" stroke-width="1"/>
<path d="M456.2 528 L457.62 525.21 L459.28 527.46 Z" fill="#000"/>
<text x="434" y="534.16" font-size="7.2" fill="#1c1c1c" textLength="15" lengthAdjust="spacingAndGlyphs">OAA</text>
<text x="467.4" y="531.56" font-size="7.2" fill="#1c1c1c" textLength="35.6" lengthAdjust="spacingAndGlyphs">Acetyl CoA</text>
<path d="M0 -1.1 H8.43 V-2.3 L11.03 0 L8.43 2.3 V1.1 H0 Z" fill="#e4eef3" stroke="#777" stroke-width="0.45" stroke-linejoin="miter" transform="translate(446.6 536.2) rotate(45)"/>
<path d="M0 -1.2 H7.8 V-2.5 L10.6 0 L7.8 2.5 V1.2 H0 Z" fill="#dbe9e4" stroke="#777" stroke-width="0.45" stroke-linejoin="miter" transform="translate(482.6 533.8) rotate(90)"/>
<path d="M0 -1.45 H13.2 V-2.8 L16.6 0 L13.2 2.8 V1.45 H0 Z" fill="#fae6d9" stroke="#2c2c2c" stroke-width="0.65" stroke-linejoin="miter" transform="translate(543.4 562.6) rotate(0)"/>
<path d="M0 -1.45 H13.2 V-2.8 L16.6 0 L13.2 2.8 V1.45 H0 Z" fill="#fae6d9" stroke="#2c2c2c" stroke-width="0.65" stroke-linejoin="miter" transform="translate(563 562.6) rotate(0)"/>
<path d="M0 -1.45 H13.6 V-2.8 L17 0 L13.6 2.8 V1.45 H0 Z" fill="#fae6d9" stroke="#2c2c2c" stroke-width="0.65" stroke-linejoin="miter" transform="translate(582 562.6) rotate(0)"/>
<text x="606" y="564.96" font-size="7.2" fill="#1c1c1c" textLength="35" lengthAdjust="spacingAndGlyphs">Acetyl CoA</text>
<path d="M0 -1.5 H13.1 V-2.9 L16.7 0 L13.1 2.9 V1.5 H0 Z" fill="#e2bab5" stroke="#2c2c2c" stroke-width="0.65" stroke-linejoin="miter" transform="translate(620 556) rotate(-90)"/>
<path d="M0 -1.5 H13.9 V-2.9 L17.5 0 L13.9 2.9 V1.5 H0 Z" fill="#e2bab5" stroke="#2c2c2c" stroke-width="0.65" stroke-linejoin="miter" transform="translate(620 537.5) rotate(-90)"/>
<path d="M0 -1.5 H13.1 V-2.9 L16.7 0 L13.1 2.9 V1.5 H0 Z" fill="#e2bab5" stroke="#2c2c2c" stroke-width="0.65" stroke-linejoin="miter" transform="translate(620 518.4) rotate(-90)"/>
<path d="M602.3 499.37 V493.03 M600 495.23 L602.3 492.73 L604.6 495.23" stroke="#1c1c1c" stroke-width="0.8" fill="none"/>
<text x="605.3" y="498.46" font-size="7.2" fill="#1c1c1c" textLength="35.7" lengthAdjust="spacingAndGlyphs">Fatty acids</text>
<path d="M0 -1.25 H12.04 V-2.6 L15.24 0 L12.04 2.6 V1.25 H0 Z" fill="#d8d8d8" stroke="#2c2c2c" stroke-width="0.65" stroke-linejoin="miter" transform="translate(628 567.6) rotate(38.07)"/>
<path d="M0 -1.25 H12.42 V-2.6 L15.62 0 L12.42 2.6 V1.25 H0 Z" fill="#d8d8d8" stroke="#2c2c2c" stroke-width="0.65" stroke-linejoin="miter" transform="translate(641 579) rotate(39.81)"/>
<path d="M643.3 595.23 V601.57 M641 599.37 L643.3 601.87 L645.6 599.37" stroke="#1c1c1c" stroke-width="0.8" fill="none"/>
<text x="646.3" y="600.96" font-size="7.2" fill="#1c1c1c" textLength="39.7" lengthAdjust="spacingAndGlyphs">Cholesterol</text>
<path d="M0 -1.45 H12.2 V-2.8 L15.8 0 L12.2 2.8 V1.45 H0 Z" fill="#e8c9e8" stroke="#2c2c2c" stroke-width="0.65" stroke-linejoin="miter" transform="translate(549.4 620) rotate(180)"/>
<path d="M0 -1.45 H12.6 V-2.8 L16.2 0 L12.6 2.8 V1.45 H0 Z" fill="#e8c9e8" stroke="#2c2c2c" stroke-width="0.65" stroke-linejoin="miter" transform="translate(568.6 620) rotate(180)"/>
<path d="M574.7 617.03 V623.37 M572.4 621.17 L574.7 623.67 L577 621.17" stroke="#1c1c1c" stroke-width="0.8" fill="none"/>
<text x="577.7" y="622.76" font-size="7.2" fill="#1c1c1c" textLength="35.7" lengthAdjust="spacingAndGlyphs">Glutamate</text>
</g>
<g>
<path d="M2.3 14.3 L6.7 -1.2 M12.7 14.3 L7.3 -1.2 M3.9 9.1 H11 M0 14.3 H5 M10.2 14.3 H15 M2.6 0.1 H6.6" stroke="#000" stroke-width="1.08" fill="none"/>
<path d="M190.3 14.3 H198 C205.2 14.3 205.2 7.2 198.2 7.2 H193 M198.2 7.2 C203.8 7.2 203.8 0.2 197.5 0.2 H190.6 M193 0.2 V14.3" stroke="#000" stroke-width="1.08" fill="none"/>
<path d="M427.2 3.6 V-0.5 M427.2 2.6 C425 -1.8 415.8 -2 415.8 7 C415.8 15.5 424.5 16.2 427.8 11.2" stroke="#000" stroke-width="1.08" fill="none"/>
<path d="M2 171.3 H7.5 C16 171.3 16 184.9 7.5 184.9 H2 M3.6 171.3 V184.9" stroke="#000" stroke-width="1.08" fill="none"/>
<path d="M345.2 162.1 H357 V165.8 M345.2 175.1 H357.5 V171.6 M347.6 162.1 V175.1 M347.6 168.5 H352.5 M352.5 166.7 V170.5" stroke="#000" stroke-width="1.08" fill="none"/>
<path d="M2 409.5 H15.4 V413.6 M5 409.5 V424.2 M2 424.2 H10.2 M5 416.5 H10.7 M10.7 414.3 V419" stroke="#000" stroke-width="1.08" fill="none"/>
<path d="M357.4 410.6 C354 405.6 346.2 406.8 346.2 415 C346.2 423.2 354.5 423.2 357.6 420.6 V416.3 H352 M357.5 408.2 V411.4" stroke="#000" stroke-width="1.08" fill="none"/>
</g>
<g>
<text x="104.3" y="16" font-size="10.2" text-anchor="middle">5 dpf</text>
<text x="104.3" y="28.4" font-size="10.8" text-anchor="middle">MLCL:CL Ratio</text>
<path d="M58.3 130.9 V110.3 H94.5 V130.9" stroke="#000" stroke-width="1" fill="#fff"/>
<rect x="113.6" y="71.6" width="37.9" height="58.8" fill="#000" stroke="none" stroke-width="1"/>
<line x1="38.4" y1="43.1" x2="38.4" y2="130.9" stroke="#000" stroke-width="1"/>
<line x1="35" y1="43.6" x2="38.4" y2="43.6" stroke="#000" stroke-width="1"/>
<text x="34.4" y="46.67" font-size="9.6" text-anchor="end">8</text>
<line x1="35" y1="65.4" x2="38.4" y2="65.4" stroke="#000" stroke-width="1"/>
<text x="34.4" y="68.47" font-size="9.6" text-anchor="end">6</text>
<line x1="35" y1="87.1" x2="38.4" y2="87.1" stroke="#000" stroke-width="1"/>
<text x="34.4" y="90.17" font-size="9.6" text-anchor="end">4</text>
<line x1="35" y1="108.8" x2="38.4" y2="108.8" stroke="#000" stroke-width="1"/>
<text x="34.4" y="111.87" font-size="9.6" text-anchor="end">2</text>
<line x1="35" y1="130.4" x2="38.4" y2="130.4" stroke="#000" stroke-width="1"/>
<text x="34.4" y="133.47" font-size="9.6" text-anchor="end">0</text>
<line x1="37.9" y1="130.4" x2="170" y2="130.4" stroke="#000" stroke-width="1"/>
<line x1="76.4" y1="130.4" x2="76.4" y2="133.2" stroke="#000" stroke-width="1"/>
<line x1="132.6" y1="130.4" x2="132.6" y2="133.2" stroke="#000" stroke-width="1"/>
<text x="24.2" y="86.5" font-size="11.8" text-anchor="middle" transform="rotate(-90 24.2 86.5)">Ratio MLCL:CL</text>
<line x1="76.4" y1="105.4" x2="76.4" y2="113.5" stroke="#000" stroke-width="1"/>
<line x1="67.1" y1="105.4" x2="85.7" y2="105.4" stroke="#000" stroke-width="1"/>
<line x1="67.1" y1="113.5" x2="85.7" y2="113.5" stroke="#000" stroke-width="1"/>
<circle cx="76.4" cy="102.4" r="2.4" fill="#000" stroke="none" stroke-width="1"/>
<circle cx="76.4" cy="109.4" r="2.4" fill="#000" stroke="none" stroke-width="1"/>
<circle cx="76.4" cy="117" r="2.4" fill="#000" stroke="none" stroke-width="1"/>
<line x1="132.6" y1="64.4" x2="132.6" y2="71.6" stroke="#000" stroke-width="1"/>
<line x1="123.4" y1="64.4" x2="141.8" y2="64.4" stroke="#000" stroke-width="1"/>
<circle cx="132.6" cy="61.4" r="2.15" fill="#fff" stroke="#000" stroke-width="1.1"/>
<circle cx="132.6" cy="68" r="2.15" fill="#fff" stroke="#000" stroke-width="1.1"/>
<circle cx="132.6" cy="86.4" r="1.8" fill="#fff" stroke="#000" stroke-width="0.4"/>
<path d="M76.4 97 V50.7 H132.6 V56" stroke="#000" stroke-width="1" fill="none"/>
<text x="104.6" y="50.44" font-size="9.5" text-anchor="middle" stroke="#000" stroke-width="0.3">*</text>
<text x="63.4" y="145.2" font-size="10.8" font-style="italic" text-anchor="start">taz<tspan font-size="8.8" dy="-5.4">+/+</tspan></text>
<text x="105" y="145.2" font-size="10.8" font-style="italic" text-anchor="start">MZ taz<tspan font-size="8.8" dy="-5.4">E3/E3</tspan></text>
</g>
<g>
<text x="326" y="16.9" font-size="10.2" text-anchor="middle">5 dpf 3-MGC</text>
<path d="M277.5 123.3 V82.7 H315.5 V123.3" stroke="#000" stroke-width="1" fill="#fff"/>
<rect x="336" y="56" width="39.7" height="66.8" fill="#000" stroke="none" stroke-width="1"/>
<line x1="256.6" y1="30.1" x2="256.6" y2="123.3" stroke="#000" stroke-width="1"/>
<line x1="253.2" y1="30.6" x2="256.6" y2="30.6" stroke="#000" stroke-width="1"/>
<text x="252.2" y="33.35" font-size="8.6" text-anchor="end">1.5</text>
<line x1="253.2" y1="61.4" x2="256.6" y2="61.4" stroke="#000" stroke-width="1"/>
<text x="252.2" y="64.15" font-size="8.6" text-anchor="end">1.0</text>
<line x1="253.2" y1="92.3" x2="256.6" y2="92.3" stroke="#000" stroke-width="1"/>
<text x="252.2" y="95.05" font-size="8.6" text-anchor="end">0.5</text>
<line x1="253.2" y1="122.8" x2="256.6" y2="122.8" stroke="#000" stroke-width="1"/>
<text x="252.2" y="125.55" font-size="8.6" text-anchor="end">0.0</text>
<line x1="256.1" y1="122.8" x2="396" y2="122.8" stroke="#000" stroke-width="1"/>
<line x1="296.2" y1="122.8" x2="296.2" y2="125.6" stroke="#000" stroke-width="1"/>
<line x1="356" y1="122.8" x2="356" y2="125.6" stroke="#000" stroke-width="1"/>
<text x="233.6" y="76" font-size="11.5" text-anchor="middle" transform="rotate(-90 233.6 76)">Amount/internal STD</text>
<line x1="296.2" y1="78.6" x2="296.2" y2="84.6" stroke="#000" stroke-width="1"/>
<line x1="286.5" y1="78.6" x2="305.9" y2="78.6" stroke="#000" stroke-width="1"/>
<line x1="286.5" y1="84.6" x2="305.9" y2="84.6" stroke="#000" stroke-width="1"/>
<circle cx="296.2" cy="76.4" r="2.4" fill="#000" stroke="none" stroke-width="1"/>
<circle cx="292" cy="86.4" r="2.4" fill="#000" stroke="none" stroke-width="1"/>
<circle cx="301" cy="83.4" r="2.4" fill="#000" stroke="none" stroke-width="1"/>
<circle cx="346.4" cy="56.6" r="2.25" fill="#fff" stroke="#000" stroke-width="1.1"/>
<circle cx="356" cy="55" r="2.25" fill="#fff" stroke="#000" stroke-width="1.1"/>
<circle cx="365.4" cy="56.2" r="2.25" fill="#fff" stroke="#000" stroke-width="1.1"/>
<path d="M296.2 71 V44.5 H356 V49.6" stroke="#000" stroke-width="1" fill="none"/>
<text x="327.7" y="43.43" font-size="11" text-anchor="middle" stroke="#000" stroke-width="0.3" letter-spacing="1.4">***</text>
<text x="283" y="137.7" font-size="11" font-style="italic" text-anchor="start">taz<tspan font-size="9" dy="-5.5">+/+</tspan></text>
<text x="327" y="137.7" font-size="11" font-style="italic" text-anchor="start">MZ taz<tspan font-size="9" dy="-5.5">E3/E3</tspan></text>
</g>
<g>
<text x="523.3" y="16" font-size="10">ATP</text>
<text x="523.3" y="27.2" font-size="10">5 dpf</text>
<path d="M489.8 126.3 V75.9 H523.5 V126.3" stroke="#000" stroke-width="1" fill="#fff"/>
<rect x="541.4" y="93" width="34.6" height="32.8" fill="#000" stroke="none" stroke-width="1"/>
<line x1="471.4" y1="43.8" x2="471.4" y2="126.3" stroke="#000" stroke-width="1"/>
<line x1="468.2" y1="44.3" x2="471.4" y2="44.3" stroke="#000" stroke-width="1"/>
<text x="467.2" y="47.19" font-size="7.8" text-anchor="end">8000</text>
<line x1="468.2" y1="64.6" x2="471.4" y2="64.6" stroke="#000" stroke-width="1"/>
<text x="467.2" y="67.49" font-size="7.8" text-anchor="end">6000</text>
<line x1="468.2" y1="85" x2="471.4" y2="85" stroke="#000" stroke-width="1"/>
<text x="467.2" y="87.89" font-size="7.8" text-anchor="end">4000</text>
<line x1="468.2" y1="105.4" x2="471.4" y2="105.4" stroke="#000" stroke-width="1"/>
<text x="467.2" y="108.29" font-size="7.8" text-anchor="end">2000</text>
<line x1="468.2" y1="125.8" x2="471.4" y2="125.8" stroke="#000" stroke-width="1"/>
<text x="467.2" y="128.69" font-size="7.8" text-anchor="end">0</text>
<line x1="470.5" y1="125.8" x2="594" y2="125.8" stroke="#000" stroke-width="1"/>
<line x1="506.2" y1="125.8" x2="506.2" y2="128.2" stroke="#000" stroke-width="1"/>
<line x1="559" y1="125.8" x2="559" y2="128.2" stroke="#000" stroke-width="1"/>
<text x="444.2" y="84" font-size="11" text-anchor="middle" transform="rotate(-90 444.2 84)">Luminescence</text>
<line x1="506.2" y1="71.4" x2="506.2" y2="79" stroke="#000" stroke-width="1"/>
<line x1="497.5" y1="71.4" x2="514.9" y2="71.4" stroke="#000" stroke-width="1"/>
<line x1="497.5" y1="79" x2="514.9" y2="79" stroke="#000" stroke-width="1"/>
<circle cx="506.2" cy="65" r="2.2" fill="#000" stroke="none" stroke-width="1"/>
<circle cx="502.4" cy="76.6" r="2.2" fill="#000" stroke="none" stroke-width="1"/>
<circle cx="510.6" cy="78" r="2.2" fill="#000" stroke="none" stroke-width="1"/>
<circle cx="502.4" cy="82" r="2.2" fill="#000" stroke="none" stroke-width="1"/>
<line x1="559" y1="90" x2="559" y2="93" stroke="#000" stroke-width="1"/>
<line x1="550.2" y1="90" x2="567.8" y2="90" stroke="#000" stroke-width="1"/>
<circle cx="554.4" cy="89.4" r="2" fill="#fff" stroke="#000" stroke-width="1"/>
<circle cx="562.4" cy="91" r="2" fill="#fff" stroke="#000" stroke-width="1"/>
<circle cx="558.6" cy="99" r="1.6" fill="#fff" stroke="#000" stroke-width="0.4"/>
<path d="M506.2 60 V55.2 H559 V85" stroke="#000" stroke-width="1" fill="none"/>
<text x="533.7" y="54.3" font-size="10" text-anchor="middle" stroke="#000" stroke-width="0.3" letter-spacing="1.4">**</text>
<text x="494.4" y="139.2" font-size="10" font-style="italic" text-anchor="start">taz<tspan font-size="8" dy="-5">+/+</tspan></text>
<text x="533.4" y="139.2" font-size="10" font-style="italic" text-anchor="start">MZ taz<tspan font-size="8" dy="-5">E3/E3</tspan></text>
</g>
<g>
<text x="437.4" y="216.6" font-size="10.2" text-anchor="middle">Cholesterol</text>
<text x="438" y="227.89" font-size="13" text-anchor="middle" stroke="#000" stroke-width="0.3">*</text>
<path d="M409.53 335.1 V254.92 H431.47 V335.1" stroke="#000" stroke-width="1.45" fill="#fff"/>
<rect x="443.6" y="272" width="22.6" height="62.6" fill="#000" stroke="none" stroke-width="1"/>
<line x1="403.6" y1="228.05" x2="403.6" y2="335.15" stroke="#000" stroke-width="1.1"/>
<line x1="400.4" y1="228.6" x2="403.6" y2="228.6" stroke="#000" stroke-width="1.1"/>
<text x="399.2" y="231.13" font-size="7.9" text-anchor="end">3</text>
<line x1="400.4" y1="264.2" x2="403.6" y2="264.2" stroke="#000" stroke-width="1.1"/>
<text x="399.2" y="266.73" font-size="7.9" text-anchor="end">2</text>
<line x1="400.4" y1="299.4" x2="403.6" y2="299.4" stroke="#000" stroke-width="1.1"/>
<text x="399.2" y="301.93" font-size="7.9" text-anchor="end">1</text>
<line x1="400.4" y1="334.6" x2="403.6" y2="334.6" stroke="#000" stroke-width="1.1"/>
<text x="399.2" y="337.13" font-size="7.9" text-anchor="end">0</text>
<line x1="403.1" y1="334.6" x2="472" y2="334.6" stroke="#000" stroke-width="1.1"/>
<line x1="420.4" y1="334.6" x2="420.4" y2="337.2" stroke="#000" stroke-width="1.1"/>
<line x1="454.6" y1="334.6" x2="454.6" y2="337.2" stroke="#000" stroke-width="1.1"/>
<text x="389.5" y="281.5" font-size="8.8" text-anchor="middle" transform="rotate(-90 389.5 281.5)">Relative Abundance</text>
<line x1="420.4" y1="247" x2="420.4" y2="261.6" stroke="#000" stroke-width="1.3"/>
<line x1="414.8" y1="247" x2="426" y2="247" stroke="#000" stroke-width="1.3"/>
<line x1="414.8" y1="261.6" x2="426" y2="261.6" stroke="#000" stroke-width="1.3"/>
<circle cx="420.4" cy="240.4" r="2.7" fill="#000" stroke="none" stroke-width="1"/>
<circle cx="415.4" cy="262.4" r="2.7" fill="#000" stroke="none" stroke-width="1"/>
<circle cx="425.4" cy="260.4" r="2.7" fill="#000" stroke="none" stroke-width="1"/>
<line x1="455.5" y1="270" x2="455.5" y2="272" stroke="#000" stroke-width="1.3"/>
<line x1="449.9" y1="270" x2="461.1" y2="270" stroke="#000" stroke-width="1.3"/>
<circle cx="449.4" cy="268" r="2.4" fill="#fff" stroke="#000" stroke-width="1.4"/>
<circle cx="449.6" cy="274.2" r="2.25" fill="#fff" stroke="#000" stroke-width="1.5"/>
<circle cx="460" cy="273" r="2.25" fill="#fff" stroke="#000" stroke-width="1.5"/>
<path d="M446.8 269.5 A2.9 2.9 0 0 1 452 269.5" stroke="none" stroke-width="0.1" fill="none"/>
<path d="M420.2 234 V227.7 H454.6 V261.6" stroke="#000" stroke-width="1.2" fill="none"/>
<text x="411" y="346.2" font-size="8" font-style="italic" text-anchor="start">taz<tspan font-size="6.2" dy="-3.2">+/+</tspan></text>
<text x="434.6" y="346.2" font-size="8" font-style="italic" text-anchor="start">MZ taz<tspan font-size="6.2" dy="-3.2">E3/E3</tspan></text>
<text x="531.6" y="216" font-size="9.6" text-anchor="middle">Total LPC</text>
<text x="532" y="232.49" font-size="13" text-anchor="middle" stroke="#000" stroke-width="0.3">*</text>
<path d="M506.23 338.7 V291.53 H525.48 V338.7" stroke="#000" stroke-width="1.45" fill="#fff"/>
<rect x="537.6" y="265" width="20.6" height="73.2" fill="#000" stroke="none" stroke-width="1"/>
<line x1="499.7" y1="236.85" x2="499.7" y2="338.75" stroke="#000" stroke-width="1.1"/>
<line x1="496.5" y1="237.4" x2="499.7" y2="237.4" stroke="#000" stroke-width="1.1"/>
<text x="495.3" y="239.93" font-size="7.9" text-anchor="end">15</text>
<line x1="496.5" y1="271.2" x2="499.7" y2="271.2" stroke="#000" stroke-width="1.1"/>
<text x="495.3" y="273.73" font-size="7.9" text-anchor="end">10</text>
<line x1="496.5" y1="304.6" x2="499.7" y2="304.6" stroke="#000" stroke-width="1.1"/>
<text x="495.3" y="307.13" font-size="7.9" text-anchor="end">5</text>
<line x1="496.5" y1="338.2" x2="499.7" y2="338.2" stroke="#000" stroke-width="1.1"/>
<text x="495.3" y="340.73" font-size="7.9" text-anchor="end">0</text>
<line x1="499.2" y1="338.2" x2="562" y2="338.2" stroke="#000" stroke-width="1.1"/>
<line x1="515.8" y1="338.2" x2="515.8" y2="340.8" stroke="#000" stroke-width="1.1"/>
<line x1="547.8" y1="338.2" x2="547.8" y2="340.8" stroke="#000" stroke-width="1.1"/>
<text x="483.2" y="288.5" font-size="8.8" text-anchor="middle" transform="rotate(-90 483.2 288.5)">Relative Abundance</text>
<line x1="515.8" y1="286" x2="515.8" y2="295.8" stroke="#000" stroke-width="1.3"/>
<line x1="510.9" y1="286" x2="520.7" y2="286" stroke="#000" stroke-width="1.3"/>
<line x1="510.9" y1="295.8" x2="520.7" y2="295.8" stroke="#000" stroke-width="1.3"/>
<circle cx="515.8" cy="281" r="2.7" fill="#000" stroke="none" stroke-width="1"/>
<circle cx="511" cy="295.4" r="2.7" fill="#000" stroke="none" stroke-width="1"/>
<circle cx="520.6" cy="295.4" r="2.7" fill="#000" stroke="none" stroke-width="1"/>
<line x1="547.8" y1="254.4" x2="547.8" y2="265" stroke="#000" stroke-width="1.3"/>
<line x1="542.9" y1="254.4" x2="552.7" y2="254.4" stroke="#000" stroke-width="1.3"/>
<circle cx="547.8" cy="244" r="2.5" fill="#fff" stroke="#000" stroke-width="1.4"/>
<circle cx="547.8" cy="272.4" r="1.45" fill="#fff" stroke="#000" stroke-width="0.3"/>
<circle cx="547.8" cy="278" r="1.55" fill="#fff" stroke="#000" stroke-width="0.3"/>
<path d="M515.8 274 V232.2 H547.8 V237.2" stroke="#000" stroke-width="1.2" fill="none"/>
<text x="506.6" y="349" font-size="8" font-style="italic" text-anchor="start">taz<tspan font-size="6.2" dy="-3.2">+/+</tspan></text>
<text x="529" y="349" font-size="8" font-style="italic" text-anchor="start">MZ taz<tspan font-size="6.2" dy="-3.2">E3/E3</tspan></text>
<text x="637" y="223.6" font-size="9.6" text-anchor="middle">Total PC</text>
<text x="637.4" y="243.09" font-size="13" text-anchor="middle" stroke="#000" stroke-width="0.3">*</text>
<path d="M611.23 338.7 V279.12 H631.07 V338.7" stroke="#000" stroke-width="1.45" fill="#fff"/>
<rect x="642.6" y="263.4" width="21.2" height="74.8" fill="#000" stroke="none" stroke-width="1"/>
<line x1="605" y1="235.05" x2="605" y2="338.75" stroke="#000" stroke-width="1.1"/>
<line x1="601.8" y1="235.6" x2="605" y2="235.6" stroke="#000" stroke-width="1.1"/>
<text x="600.6" y="238.13" font-size="7.9" text-anchor="end">200</text>
<line x1="601.8" y1="261.3" x2="605" y2="261.3" stroke="#000" stroke-width="1.1"/>
<text x="600.6" y="263.83" font-size="7.9" text-anchor="end">150</text>
<line x1="601.8" y1="287" x2="605" y2="287" stroke="#000" stroke-width="1.1"/>
<text x="600.6" y="289.53" font-size="7.9" text-anchor="end">100</text>
<line x1="601.8" y1="312.6" x2="605" y2="312.6" stroke="#000" stroke-width="1.1"/>
<text x="600.6" y="315.13" font-size="7.9" text-anchor="end">50</text>
<line x1="601.8" y1="338.2" x2="605" y2="338.2" stroke="#000" stroke-width="1.1"/>
<text x="600.6" y="340.73" font-size="7.9" text-anchor="end">0</text>
<line x1="604.5" y1="338.2" x2="667" y2="338.2" stroke="#000" stroke-width="1.1"/>
<line x1="620.8" y1="338.2" x2="620.8" y2="340.8" stroke="#000" stroke-width="1.1"/>
<line x1="653.4" y1="338.2" x2="653.4" y2="340.8" stroke="#000" stroke-width="1.1"/>
<text x="583.2" y="287" font-size="8.8" text-anchor="middle" transform="rotate(-90 583.2 287)">Relative Abundance</text>
<line x1="620.8" y1="276" x2="620.8" y2="281" stroke="#000" stroke-width="1.3"/>
<line x1="615.9" y1="276" x2="625.7" y2="276" stroke="#000" stroke-width="1.3"/>
<line x1="615.9" y1="281" x2="625.7" y2="281" stroke="#000" stroke-width="1.3"/>
<circle cx="616" cy="275" r="2.8" fill="#000" stroke="none" stroke-width="1"/>
<circle cx="626" cy="275" r="2.8" fill="#000" stroke="none" stroke-width="1"/>
<circle cx="620.8" cy="284.4" r="2.8" fill="#000" stroke="none" stroke-width="1"/>
<line x1="653.4" y1="259" x2="653.4" y2="263.4" stroke="#000" stroke-width="1.3"/>
<line x1="648.5" y1="259" x2="658.3" y2="259" stroke="#000" stroke-width="1.3"/>
<circle cx="653.4" cy="256.6" r="2.5" fill="#fff" stroke="#000" stroke-width="1.4"/>
<circle cx="658.6" cy="263.8" r="2.35" fill="#fff" stroke="#000" stroke-width="1.5"/>
<circle cx="648" cy="269" r="2.25" fill="#fff" stroke="#000" stroke-width="1.5"/>
<path d="M620.6 269 V244.5 H653.4 V250" stroke="#000" stroke-width="1.2" fill="none"/>
<text x="612.3" y="349.8" font-size="8" font-style="italic" text-anchor="start">taz<tspan font-size="6.2" dy="-3.2">+/+</tspan></text>
<text x="635.3" y="349.8" font-size="8" font-style="italic" text-anchor="start">MZ taz<tspan font-size="6.2" dy="-3.2">E3/E3</tspan></text>
</g>
<g>
<text x="100.4" y="452.8" font-size="9.6" text-anchor="middle">Acylcarnitines</text>
<path d="M39.2 561 V548.6 H44.2 V561" stroke="#000" stroke-width="1.2" fill="#fff"/>
<rect x="44.4" y="539" width="5.8" height="21.6" fill="#000" stroke="none" stroke-width="1"/>
<path d="M57.6 561 V499.2 H62.8 V561" stroke="#000" stroke-width="1.2" fill="#fff"/>
<rect x="56.8" y="497.6" width="7" height="3.2" fill="#fff" stroke="none" stroke-width="1"/>
<path d="M57.6 494.3 V493 H63 V494.3" stroke="#000" stroke-width="1.2" fill="#fff"/>
<rect x="63" y="500.6" width="6" height="60" fill="#000" stroke="none" stroke-width="1"/>
<rect x="63" y="487" width="6" height="7.3" fill="#000" stroke="none" stroke-width="1"/>
<path d="M76.2 561 V499.2 H81.4 V561" stroke="#000" stroke-width="1.2" fill="#fff"/>
<rect x="75.4" y="497.6" width="7" height="3.2" fill="#fff" stroke="none" stroke-width="1"/>
<path d="M76.2 494.3 V486.2 H81.6 V494.3" stroke="#000" stroke-width="1.2" fill="#fff"/>
<rect x="81.6" y="500.6" width="6" height="60" fill="#000" stroke="none" stroke-width="1"/>
<rect x="81.6" y="483" width="6" height="11.3" fill="#000" stroke="none" stroke-width="1"/>
<path d="M95 561 V499.2 H100.2 V561" stroke="#000" stroke-width="1.2" fill="#fff"/>
<rect x="94.2" y="497.6" width="7" height="3.2" fill="#fff" stroke="none" stroke-width="1"/>
<path d="M95 494.3 V484.6 H100.4 V494.3" stroke="#000" stroke-width="1.2" fill="#fff"/>
<rect x="100.4" y="500.6" width="6" height="60" fill="#000" stroke="none" stroke-width="1"/>
<rect x="100.4" y="480" width="6" height="14.3" fill="#000" stroke="none" stroke-width="1"/>
<path d="M113.6 561 V522.6 H118.8 V561" stroke="#000" stroke-width="1.2" fill="#fff"/>
<rect x="119" y="511.6" width="6" height="49" fill="#000" stroke="none" stroke-width="1"/>
<path d="M132 561 V554.6 H137.2 V561" stroke="#000" stroke-width="1.2" fill="#fff"/>
<rect x="137.4" y="554" width="6" height="6.6" fill="#000" stroke="none" stroke-width="1"/>
<path d="M150.6 561 V556.6 H155.8 V561" stroke="#000" stroke-width="1.2" fill="#fff"/>
<rect x="156" y="555" width="6" height="5.6" fill="#000" stroke="none" stroke-width="1"/>
<line x1="35" y1="473.15" x2="35" y2="494.3" stroke="#000" stroke-width="1.2"/>
<line x1="33" y1="494.3" x2="37" y2="494.3" stroke="#000" stroke-width="1.2"/>
<line x1="35" y1="500.6" x2="35" y2="561.05" stroke="#000" stroke-width="1.2"/>
<line x1="33" y1="500.6" x2="37" y2="500.6" stroke="#000" stroke-width="1.2"/>
<line x1="32.2" y1="473.6" x2="35" y2="473.6" stroke="#000" stroke-width="1.2"/>
<text x="31" y="476.5" font-size="8.2" text-anchor="end">30</text>
<line x1="32.2" y1="483.8" x2="35" y2="483.8" stroke="#000" stroke-width="1.2"/>
<text x="31" y="486.7" font-size="8.2" text-anchor="end">20</text>
<line x1="32.2" y1="494" x2="35" y2="494" stroke="#000" stroke-width="1.2"/>
<text x="31" y="496.9" font-size="8.2" text-anchor="end">10</text>
<line x1="32.2" y1="503.4" x2="35" y2="503.4" stroke="#000" stroke-width="1.2"/>
<text x="31" y="506.3" font-size="8.2" text-anchor="end">8</text>
<line x1="32.2" y1="517.7" x2="35" y2="517.7" stroke="#000" stroke-width="1.2"/>
<text x="31" y="520.6" font-size="8.2" text-anchor="end">6</text>
<line x1="32.2" y1="532.1" x2="35" y2="532.1" stroke="#000" stroke-width="1.2"/>
<text x="31" y="535" font-size="8.2" text-anchor="end">4</text>
<line x1="32.2" y1="546.3" x2="35" y2="546.3" stroke="#000" stroke-width="1.2"/>
<text x="31" y="549.2" font-size="8.2" text-anchor="end">2</text>
<line x1="32.2" y1="560.6" x2="35" y2="560.6" stroke="#000" stroke-width="1.2"/>
<text x="31" y="563.5" font-size="8.2" text-anchor="end">0</text>
<line x1="34.6" y1="560.6" x2="165.4" y2="560.6" stroke="#000" stroke-width="1.2"/>
<line x1="43.6" y1="560.6" x2="43.6" y2="563.4" stroke="#000" stroke-width="1.2"/>
<line x1="62.4" y1="560.6" x2="62.4" y2="563.4" stroke="#000" stroke-width="1.2"/>
<line x1="81" y1="560.6" x2="81" y2="563.4" stroke="#000" stroke-width="1.2"/>
<line x1="99.6" y1="560.6" x2="99.6" y2="563.4" stroke="#000" stroke-width="1.2"/>
<line x1="118.4" y1="560.6" x2="118.4" y2="563.4" stroke="#000" stroke-width="1.2"/>
<line x1="137" y1="560.6" x2="137" y2="563.4" stroke="#000" stroke-width="1.2"/>
<line x1="155.6" y1="560.6" x2="155.6" y2="563.4" stroke="#000" stroke-width="1.2"/>
<text x="18.8" y="517" font-size="9.7" text-anchor="middle" transform="rotate(-90 18.8 517)">Relative abundance</text>
<line x1="41.5" y1="543" x2="41.5" y2="553" stroke="#000" stroke-width="1"/>
<line x1="39.3" y1="543" x2="43.7" y2="543" stroke="#000" stroke-width="1"/>
<line x1="39.3" y1="553" x2="43.7" y2="553" stroke="#000" stroke-width="1"/>
<circle cx="40" cy="542" r="1.9" fill="#000" stroke="none" stroke-width="1"/>
<circle cx="42.6" cy="546" r="1.9" fill="#000" stroke="none" stroke-width="1"/>
<circle cx="41" cy="556" r="1.9" fill="#000" stroke="none" stroke-width="1"/>
<rect x="40.2" y="547.6" width="3.2" height="6.2" fill="#fff" stroke="#000" stroke-width="0.5"/>
<line x1="47.3" y1="534" x2="47.3" y2="539" stroke="#000" stroke-width="1"/>
<line x1="45.1" y1="534" x2="49.5" y2="534" stroke="#000" stroke-width="1"/>
<circle cx="46" cy="533.6" r="1.65" fill="#fff" stroke="#000" stroke-width="0.9"/>
<circle cx="48.6" cy="533.6" r="1.65" fill="#fff" stroke="#000" stroke-width="0.9"/>
<circle cx="47" cy="548.6" r="1.15" fill="#fff" stroke="#000" stroke-width="0.3"/>
<circle cx="58.4" cy="493.2" r="1.9" fill="#000" stroke="none" stroke-width="1"/>
<circle cx="60" cy="491.2" r="1.9" fill="#000" stroke="none" stroke-width="1"/>
<circle cx="61.6" cy="490" r="1.9" fill="#000" stroke="none" stroke-width="1"/>
<line x1="66" y1="484" x2="66" y2="487" stroke="#000" stroke-width="1"/>
<line x1="63.8" y1="484" x2="68.2" y2="484" stroke="#000" stroke-width="1"/>
<circle cx="66" cy="482" r="1.65" fill="#fff" stroke="#000" stroke-width="0.9"/>
<circle cx="67.2" cy="486.2" r="1.65" fill="#fff" stroke="#000" stroke-width="0.9"/>
<circle cx="77" cy="485.4" r="1.9" fill="#000" stroke="none" stroke-width="1"/>
<circle cx="79.2" cy="483.2" r="1.9" fill="#000" stroke="none" stroke-width="1"/>
<circle cx="78" cy="487.5" r="1.9" fill="#000" stroke="none" stroke-width="1"/>
<line x1="84.6" y1="479" x2="84.6" y2="483" stroke="#000" stroke-width="1"/>
<line x1="82.4" y1="479" x2="86.8" y2="479" stroke="#000" stroke-width="1"/>
<circle cx="84.6" cy="476" r="1.65" fill="#fff" stroke="#000" stroke-width="0.9"/>
<circle cx="83.6" cy="483.2" r="1.65" fill="#fff" stroke="#000" stroke-width="0.9"/>
<circle cx="86.6" cy="483" r="1.65" fill="#fff" stroke="#000" stroke-width="0.9"/>
<circle cx="96" cy="483" r="1.9" fill="#000" stroke="none" stroke-width="1"/>
<circle cx="98" cy="485.4" r="1.9" fill="#000" stroke="none" stroke-width="1"/>
<circle cx="99" cy="482" r="1.9" fill="#000" stroke="none" stroke-width="1"/>
<circle cx="102.2" cy="476.6" r="1.65" fill="#fff" stroke="#000" stroke-width="0.9"/>
<circle cx="104.6" cy="479.4" r="1.65" fill="#fff" stroke="#000" stroke-width="0.9"/>
<circle cx="102" cy="481.4" r="1.2" fill="#fff" stroke="#000" stroke-width="1"/>
<line x1="116" y1="516" x2="116" y2="528" stroke="#000" stroke-width="1"/>
<line x1="113.8" y1="516" x2="118.2" y2="516" stroke="#000" stroke-width="1"/>
<line x1="113.8" y1="528" x2="118.2" y2="528" stroke="#000" stroke-width="1"/>
<circle cx="115.6" cy="511.6" r="1.9" fill="#000" stroke="none" stroke-width="1"/>
<circle cx="114.8" cy="525" r="1.9" fill="#000" stroke="none" stroke-width="1"/>
<circle cx="117.2" cy="527" r="1.9" fill="#000" stroke="none" stroke-width="1"/>
<line x1="122" y1="505" x2="122" y2="511.6" stroke="#000" stroke-width="1"/>
<line x1="119.8" y1="505" x2="124.2" y2="505" stroke="#000" stroke-width="1"/>
<circle cx="122" cy="500" r="1.65" fill="#fff" stroke="#000" stroke-width="0.9"/>
<circle cx="123.2" cy="515" r="1.15" fill="#fff" stroke="#000" stroke-width="0.3"/>
<circle cx="121" cy="517.4" r="1.15" fill="#fff" stroke="#000" stroke-width="0.3"/>
<circle cx="132.8" cy="554.6" r="1.9" fill="#000" stroke="none" stroke-width="1"/>
<circle cx="134.6" cy="552.6" r="1.9" fill="#000" stroke="none" stroke-width="1"/>
<circle cx="136" cy="555" r="1.9" fill="#000" stroke="none" stroke-width="1"/>
<circle cx="139.2" cy="553.6" r="1.65" fill="#fff" stroke="#000" stroke-width="0.9"/>
<circle cx="141.6" cy="553" r="1.65" fill="#fff" stroke="#000" stroke-width="0.9"/>
<circle cx="152" cy="555" r="1.9" fill="#000" stroke="none" stroke-width="1"/>
<circle cx="154.2" cy="556" r="1.9" fill="#000" stroke="none" stroke-width="1"/>
<circle cx="158.4" cy="554.6" r="1.65" fill="#fff" stroke="#000" stroke-width="0.9"/>
<circle cx="160.6" cy="554.2" r="1.65" fill="#fff" stroke="#000" stroke-width="0.9"/>
<path d="M59 486 V469.2 H65.4 V477" stroke="#000" stroke-width="1.3" fill="none"/>
<text x="62.4" y="469.83" font-size="11" text-anchor="middle" stroke="#000" stroke-width="0.3">*</text>
<path d="M97.6 481 V467.2 H104 V474" stroke="#000" stroke-width="1.3" fill="none"/>
<text x="101.4" y="466.43" font-size="11" text-anchor="middle" stroke="#000" stroke-width="0.3">*</text>
<path d="M153 549 V541.6 H159.4 V546" stroke="#000" stroke-width="1.3" fill="none"/>
<text x="157.7" y="541.63" font-size="11" text-anchor="middle" stroke="#000" stroke-width="0.3" letter-spacing="1.4">**</text>
<text x="47.2" y="569.4" font-size="6.8" text-anchor="end" transform="rotate(-45 47.2 569.4)">Arachidyl-carnitine</text>
<text x="66" y="569.4" font-size="6.8" text-anchor="end" transform="rotate(-45 66 569.4)">Palmityl-carnitine</text>
<text x="84.6" y="569.4" font-size="6.8" text-anchor="end" transform="rotate(-45 84.6 569.4)">Oleyl-carnitine</text>
<text x="103.2" y="569.4" font-size="6.8" text-anchor="end" transform="rotate(-45 103.2 569.4)">Octadecanoyl-carnitine</text>
<text x="122" y="569.4" font-size="6.8" text-anchor="end" transform="rotate(-45 122 569.4)">Linoleyl-carnitine</text>
<text x="140.6" y="569.4" font-size="6.8" text-anchor="end" transform="rotate(-45 140.6 569.4)">Dodecanoyl-carnitine</text>
<text x="159.2" y="569.4" font-size="6.8" text-anchor="end" transform="rotate(-45 159.2 569.4)">Tetradecanoyl-carnitine</text>
<circle cx="35.6" cy="627" r="2" fill="#000" stroke="none" stroke-width="1"/>
<text x="45.6" y="630.8" font-size="8.8" font-style="italic" text-anchor="start">taz<tspan font-size="6.2" dy="-3.34">+/+</tspan></text>
<circle cx="88.6" cy="627" r="1.8" fill="#fff" stroke="#000" stroke-width="1"/>
<text x="99.4" y="630.8" font-size="8.8" font-style="italic" text-anchor="start">MZ taz<tspan font-size="6.2" dy="-3.34">E3/E3</tspan></text>
<text x="283.6" y="454.2" font-size="11.4" text-anchor="middle">Fatty acids</text>
<path d="M210.08 572.8 V522.67 H217.32 V572.8" stroke="#000" stroke-width="1.35" fill="#fff"/>
<rect x="209.2" y="521" width="9.2" height="3.2" fill="#fff" stroke="none" stroke-width="1"/>
<path d="M210.08 516.6 V502.07 H217.6 V516.6" stroke="#000" stroke-width="1.35" fill="#fff"/>
<rect x="217.6" y="524" width="8.4" height="48.4" fill="#000" stroke="none" stroke-width="1"/>
<rect x="217.6" y="493" width="8.4" height="23.6" fill="#000" stroke="none" stroke-width="1"/>
<path d="M236.08 572.8 V522.67 H243.72 V572.8" stroke="#000" stroke-width="1.35" fill="#fff"/>
<rect x="235.2" y="521" width="9.6" height="3.2" fill="#fff" stroke="none" stroke-width="1"/>
<path d="M236.08 516.6 V496.28 H244 V516.6" stroke="#000" stroke-width="1.35" fill="#fff"/>
<rect x="244" y="524" width="8.6" height="48.4" fill="#000" stroke="none" stroke-width="1"/>
<rect x="244" y="487" width="8.6" height="29.6" fill="#000" stroke="none" stroke-width="1"/>
<path d="M262.28 572.8 V544.67 H269.72 V572.8" stroke="#000" stroke-width="1.35" fill="#fff"/>
<rect x="270" y="532" width="8.8" height="40.4" fill="#000" stroke="none" stroke-width="1"/>
<path d="M288.68 572.8 V566.67 H296.12 V572.8" stroke="#000" stroke-width="1.35" fill="#fff"/>
<rect x="296.4" y="562.6" width="8.6" height="9.8" fill="#000" stroke="none" stroke-width="1"/>
<path d="M314.68 572.8 V566.67 H322.12 V572.8" stroke="#000" stroke-width="1.35" fill="#fff"/>
<rect x="322.4" y="565.6" width="8.6" height="6.8" fill="#000" stroke="none" stroke-width="1"/>
<path d="M340.68 572.8 V569.27 H348.72 V572.8" stroke="#000" stroke-width="1.35" fill="#fff"/>
<rect x="349" y="567" width="8.6" height="5.4" fill="#000" stroke="none" stroke-width="1"/>
<line x1="204.8" y1="467.55" x2="204.8" y2="516.6" stroke="#000" stroke-width="1.2"/>
<line x1="202.4" y1="516.6" x2="207" y2="516.6" stroke="#000" stroke-width="1.2"/>
<line x1="204.8" y1="524" x2="204.8" y2="572.85" stroke="#000" stroke-width="1.2"/>
<line x1="202.4" y1="524" x2="207" y2="524" stroke="#000" stroke-width="1.2"/>
<line x1="201.6" y1="468" x2="204.8" y2="468" stroke="#000" stroke-width="1.1"/>
<text x="199.8" y="470.9" font-size="8.1" text-anchor="end">500</text>
<line x1="201.6" y1="477.7" x2="204.8" y2="477.7" stroke="#000" stroke-width="1.1"/>
<text x="199.8" y="480.6" font-size="8.1" text-anchor="end">450</text>
<line x1="201.6" y1="487.4" x2="204.8" y2="487.4" stroke="#000" stroke-width="1.1"/>
<text x="199.8" y="490.3" font-size="8.1" text-anchor="end">400</text>
<line x1="201.6" y1="497" x2="204.8" y2="497" stroke="#000" stroke-width="1.1"/>
<text x="199.8" y="499.9" font-size="8.1" text-anchor="end">350</text>
<line x1="201.6" y1="506.7" x2="204.8" y2="506.7" stroke="#000" stroke-width="1.1"/>
<text x="199.8" y="509.6" font-size="8.1" text-anchor="end">300</text>
<line x1="201.6" y1="516.4" x2="204.8" y2="516.4" stroke="#000" stroke-width="1.1"/>
<text x="199.8" y="519.3" font-size="8.1" text-anchor="end">250</text>
<line x1="201.6" y1="524.2" x2="204.8" y2="524.2" stroke="#000" stroke-width="1.1"/>
<text x="199.8" y="527.1" font-size="8.1" text-anchor="end">50</text>
<line x1="201.6" y1="534" x2="204.8" y2="534" stroke="#000" stroke-width="1.1"/>
<text x="199.8" y="536.9" font-size="8.1" text-anchor="end">40</text>
<line x1="201.6" y1="543.7" x2="204.8" y2="543.7" stroke="#000" stroke-width="1.1"/>
<text x="199.8" y="546.6" font-size="8.1" text-anchor="end">30</text>
<line x1="201.6" y1="553.3" x2="204.8" y2="553.3" stroke="#000" stroke-width="1.1"/>
<text x="199.8" y="556.2" font-size="8.1" text-anchor="end">20</text>
<line x1="201.6" y1="563" x2="204.8" y2="563" stroke="#000" stroke-width="1.1"/>
<text x="199.8" y="565.9" font-size="8.1" text-anchor="end">10</text>
<line x1="201.6" y1="572.4" x2="204.8" y2="572.4" stroke="#000" stroke-width="1.1"/>
<text x="199.8" y="575.3" font-size="8.1" text-anchor="end">0</text>
<line x1="204.2" y1="572.4" x2="362" y2="572.4" stroke="#000" stroke-width="1.2"/>
<line x1="217.4" y1="572.4" x2="217.4" y2="575.8" stroke="#000" stroke-width="1.2"/>
<line x1="244" y1="572.4" x2="244" y2="575.8" stroke="#000" stroke-width="1.2"/>
<line x1="270" y1="572.4" x2="270" y2="575.8" stroke="#000" stroke-width="1.2"/>
<line x1="296.4" y1="572.4" x2="296.4" y2="575.8" stroke="#000" stroke-width="1.2"/>
<line x1="322.4" y1="572.4" x2="322.4" y2="575.8" stroke="#000" stroke-width="1.2"/>
<line x1="349" y1="572.4" x2="349" y2="575.8" stroke="#000" stroke-width="1.2"/>
<text x="180.2" y="520.5" font-size="10" text-anchor="middle" transform="rotate(-90 180.2 520.5)">Relative abundance</text>
<line x1="213.4" y1="496.5" x2="213.4" y2="506" stroke="#000" stroke-width="1.2"/>
<line x1="210.8" y1="496.5" x2="216" y2="496.5" stroke="#000" stroke-width="1.2"/>
<line x1="210.8" y1="506" x2="216" y2="506" stroke="#000" stroke-width="1.2"/>
<circle cx="210.8" cy="496" r="2.25" fill="#000" stroke="none" stroke-width="1"/>
<circle cx="216" cy="496.2" r="2.25" fill="#000" stroke="none" stroke-width="1"/>
<circle cx="213" cy="511.6" r="2.25" fill="#000" stroke="none" stroke-width="1"/>
<line x1="222" y1="489.5" x2="222" y2="493" stroke="#000" stroke-width="1.2"/>
<line x1="219.4" y1="489.5" x2="224.6" y2="489.5" stroke="#000" stroke-width="1.2"/>
<circle cx="222" cy="487" r="1.8" fill="#fff" stroke="#000" stroke-width="1.2"/>
<circle cx="222" cy="493.4" r="1.7" fill="#fff" stroke="#000" stroke-width="1.2"/>
<circle cx="222" cy="497.8" r="1.35" fill="#fff" stroke="#000" stroke-width="0.3"/>
<line x1="239.6" y1="490.5" x2="239.6" y2="500.5" stroke="#000" stroke-width="1.2"/>
<line x1="237" y1="490.5" x2="242.2" y2="490.5" stroke="#000" stroke-width="1.2"/>
<line x1="237" y1="500.5" x2="242.2" y2="500.5" stroke="#000" stroke-width="1.2"/>
<circle cx="237" cy="489" r="2.25" fill="#000" stroke="none" stroke-width="1"/>
<circle cx="242" cy="491" r="2.25" fill="#000" stroke="none" stroke-width="1"/>
<circle cx="239.4" cy="506" r="2.25" fill="#000" stroke="none" stroke-width="1"/>
<line x1="248.4" y1="483.5" x2="248.4" y2="487" stroke="#000" stroke-width="1.2"/>
<line x1="245.8" y1="483.5" x2="251" y2="483.5" stroke="#000" stroke-width="1.2"/>
<circle cx="248.4" cy="480.6" r="1.8" fill="#fff" stroke="#000" stroke-width="1.2"/>
<circle cx="246" cy="492" r="1.7" fill="#fff" stroke="#000" stroke-width="1.2"/>
<circle cx="250.8" cy="489" r="1.7" fill="#fff" stroke="#000" stroke-width="1.2"/>
<line x1="265.8" y1="541.5" x2="265.8" y2="546.5" stroke="#000" stroke-width="1.2"/>
<line x1="263.2" y1="541.5" x2="268.4" y2="541.5" stroke="#000" stroke-width="1.2"/>
<line x1="263.2" y1="546.5" x2="268.4" y2="546.5" stroke="#000" stroke-width="1.2"/>
<circle cx="263" cy="538.6" r="2.25" fill="#000" stroke="none" stroke-width="1"/>
<circle cx="267.4" cy="542" r="2.25" fill="#000" stroke="none" stroke-width="1"/>
<circle cx="266" cy="550" r="2.25" fill="#000" stroke="none" stroke-width="1"/>
<line x1="274.4" y1="527" x2="274.4" y2="532" stroke="#000" stroke-width="1.2"/>
<line x1="271.8" y1="527" x2="277" y2="527" stroke="#000" stroke-width="1.2"/>
<circle cx="274.4" cy="531.6" r="1.8" fill="#fff" stroke="#000" stroke-width="1.2"/>
<circle cx="274.4" cy="540.6" r="1.35" fill="#fff" stroke="#000" stroke-width="0.3"/>
<circle cx="289.6" cy="564" r="2.25" fill="#000" stroke="none" stroke-width="1"/>
<circle cx="293" cy="567" r="2.25" fill="#000" stroke="none" stroke-width="1"/>
<circle cx="291" cy="562.6" r="2.25" fill="#000" stroke="none" stroke-width="1"/>
<circle cx="298.4" cy="559.4" r="1.9" fill="#fff" stroke="#000" stroke-width="1.2"/>
<circle cx="303" cy="561.4" r="1.9" fill="#fff" stroke="#000" stroke-width="1.2"/>
<circle cx="298" cy="564.6" r="1.35" fill="#fff" stroke="#000" stroke-width="0.3"/>
<circle cx="316" cy="566.2" r="2.25" fill="#000" stroke="none" stroke-width="1"/>
<circle cx="318.8" cy="566.8" r="2.25" fill="#000" stroke="none" stroke-width="1"/>
<circle cx="321" cy="565.8" r="2.25" fill="#000" stroke="none" stroke-width="1"/>
<circle cx="325" cy="565.4" r="1.9" fill="#fff" stroke="#000" stroke-width="1.2"/>
<circle cx="329" cy="565.6" r="1.9" fill="#fff" stroke="#000" stroke-width="1.2"/>
<circle cx="342" cy="569.2" r="2.25" fill="#000" stroke="none" stroke-width="1"/>
<circle cx="344.8" cy="569.6" r="2.25" fill="#000" stroke="none" stroke-width="1"/>
<circle cx="347" cy="568.4" r="2.25" fill="#000" stroke="none" stroke-width="1"/>
<circle cx="350.6" cy="568" r="1.9" fill="#fff" stroke="#000" stroke-width="1.2"/>
<circle cx="354.6" cy="566.6" r="1.9" fill="#fff" stroke="#000" stroke-width="1.2"/>
<path d="M318.6 560.2 V555.5 H328.6 V560.2" stroke="#000" stroke-width="1.3" fill="none"/>
<text x="324" y="554.63" font-size="11" text-anchor="middle" stroke="#000" stroke-width="0.3">*</text>
<path d="M344.4 560.2 V555.5 H353.6 V560.2" stroke="#000" stroke-width="1.3" fill="none"/>
<text x="350.1" y="554.63" font-size="11" text-anchor="middle" stroke="#000" stroke-width="0.3" letter-spacing="1.4">**</text>
<text x="220.8" y="583.2" font-size="10.2" text-anchor="end" transform="rotate(-45 220.8 583.2)">FA 16:0</text>
<text x="247.4" y="583.2" font-size="10.2" text-anchor="end" transform="rotate(-45 247.4 583.2)">FA 18:0</text>
<text x="273.4" y="583.2" font-size="10.2" text-anchor="end" transform="rotate(-45 273.4 583.2)">FA 18:1</text>
<text x="299.8" y="583.2" font-size="10.2" text-anchor="end" transform="rotate(-45 299.8 583.2)">FA 18:2</text>
<text x="325.8" y="583.2" font-size="10.2" text-anchor="end" transform="rotate(-45 325.8 583.2)">FA 20:0</text>
<text x="352.4" y="583.2" font-size="10.2" text-anchor="end" transform="rotate(-45 352.4 583.2)">FA 20:1</text>
<circle cx="211.8" cy="626.3" r="2.3" fill="#000" stroke="none" stroke-width="1"/>
<text x="224" y="629.6" font-size="8.6" font-style="italic" text-anchor="start">taz<tspan font-size="6.6" dy="-3.78">+/+</tspan></text>
<circle cx="280.4" cy="626.2" r="2.3" fill="#fff" stroke="#000" stroke-width="1.2"/>
<text x="292.4" y="629.6" font-size="8.6" font-style="italic" text-anchor="start">MZ taz<tspan font-size="6.6" dy="-3.78">E3/E3</tspan></text>
</g>
</g>
</svg>
</body></html>
